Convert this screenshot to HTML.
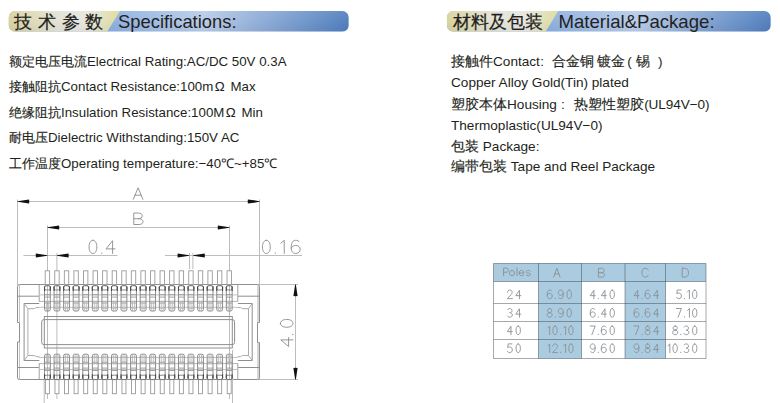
<!DOCTYPE html>
<html><head><meta charset="utf-8">
<style>
html,body{margin:0;padding:0;background:#fff;}
body{width:780px;height:403px;position:relative;overflow:hidden;font-family:"Liberation Sans",sans-serif;color:#231f20;}
.t{position:absolute;white-space:nowrap;font-size:13.2px;line-height:16px;}
.L{left:9px;font-size:13.3px;}
.R{left:451px;font-size:13.6px;}
.c{-webkit-text-stroke:0.2px #231f20;}
.k{-webkit-text-stroke:0.15px #231f20;}
.h{position:absolute;white-space:nowrap;font-size:18px;line-height:20px;color:#231f20;}
</style></head><body>
<svg width="780" height="40" viewBox="0 0 780 40" style="position:absolute;left:0;top:0">
<defs>
<linearGradient id="b1L" x1="8.7" y1="0" x2="120.0" y2="0" gradientUnits="userSpaceOnUse">
<stop offset="0" stop-color="#d8d29e"/><stop offset="0.45" stop-color="#e3e2d6"/><stop offset="0.7" stop-color="#e6e6e0"/><stop offset="1" stop-color="#dcdb98"/></linearGradient>
<linearGradient id="b1R" x1="107.2" y1="0" x2="348.8" y2="0" gradientUnits="userSpaceOnUse">
<stop offset="0" stop-color="#8aaee0"/><stop offset="0.4" stop-color="#b7cbe8"/><stop offset="1" stop-color="#4f7dbd"/></linearGradient>
<linearGradient id="b1V" x1="0" y1="11" x2="0" y2="31.7" gradientUnits="userSpaceOnUse">
<stop offset="0" stop-color="#fff" stop-opacity="0.10"/><stop offset="0.45" stop-color="#fff" stop-opacity="0.04"/><stop offset="1" stop-color="#000" stop-opacity="0.03"/></linearGradient>
<clipPath id="b1C"><rect x="8.7" y="11" width="340.1" height="20.7" rx="6.5" ry="6.5"/></clipPath>
</defs>
<g clip-path="url(#b1C)">
<rect x="8.7" y="11" width="340.1" height="20.7" fill="url(#b1R)"/>
<path d="M7.699999999999999,11 L120.0,11 L107.2,31.7 L7.699999999999999,31.7 Z" fill="url(#b1L)"/>
<rect x="8.7" y="11" width="340.1" height="20.7" fill="url(#b1V)"/>
</g></svg>
<svg width="780" height="40" viewBox="0 0 780 40" style="position:absolute;left:0;top:0">
<defs>
<linearGradient id="b2L" x1="446.9" y1="0" x2="558.2" y2="0" gradientUnits="userSpaceOnUse">
<stop offset="0" stop-color="#d8d29e"/><stop offset="0.45" stop-color="#e3e2d6"/><stop offset="0.7" stop-color="#e6e6e0"/><stop offset="1" stop-color="#dcdb98"/></linearGradient>
<linearGradient id="b2R" x1="545.6" y1="0" x2="770.8" y2="0" gradientUnits="userSpaceOnUse">
<stop offset="0" stop-color="#8aaee0"/><stop offset="0.4" stop-color="#b7cbe8"/><stop offset="1" stop-color="#4f7dbd"/></linearGradient>
<linearGradient id="b2V" x1="0" y1="11" x2="0" y2="31.7" gradientUnits="userSpaceOnUse">
<stop offset="0" stop-color="#fff" stop-opacity="0.10"/><stop offset="0.45" stop-color="#fff" stop-opacity="0.04"/><stop offset="1" stop-color="#000" stop-opacity="0.03"/></linearGradient>
<clipPath id="b2C"><rect x="446.9" y="11" width="323.9" height="20.7" rx="6.5" ry="6.5"/></clipPath>
</defs>
<g clip-path="url(#b2C)">
<rect x="446.9" y="11" width="323.9" height="20.7" fill="url(#b2R)"/>
<path d="M445.9,11 L558.2,11 L545.6,31.7 L445.9,31.7 Z" fill="url(#b2L)"/>
<rect x="446.9" y="11" width="323.9" height="20.7" fill="url(#b2V)"/>
</g></svg>
<div class="h c" style="left:14px;top:12px;letter-spacing:5.8px;">技术参数</div>
<div class="h" style="left:118px;top:12px;font-size:18.4px">Specifications:</div>
<div class="h c" style="left:452.5px;top:12px;letter-spacing:0.2px">材料及包装</div>
<div class="h" style="left:558.5px;top:12px;font-size:18.6px">Material&amp;Package:</div>

<div class="t L" style="top:54px;"><span class="k">额定电压电流</span>Electrical Rating:AC/DC 50V 0.3A</div>
<div class="t L" style="top:79px;"><span class="k">接触阻抗</span>Contact Resistance:100m<span style="margin:0 2px 0 1.5px">Ω</span> Max</div>
<div class="t L" style="top:105px;"><span class="k">绝缘阻抗</span>Insulation Resistance:100M<span style="margin:0 2px 0 1.5px">Ω</span> Min</div>
<div class="t L" style="top:130px;"><span class="k">耐电压</span>Dielectric Withstanding:150V AC</div>
<div class="t L" style="top:156px;"><span class="k">工作温度</span>Operating temperature:−40℃~+85℃</div>

<div class="t R" style="top:54px;"><span class="k">接触件</span>Contact<span style="margin:0 8px 0 0.5px">:</span><span class="k">合金铜</span><span style="margin-left:2.5px"><span class="k">镀金</span></span><span style="margin:0 4px 0 2.5px">(</span><span class="k">锡</span><span style="margin-left:8.3px">)</span></div>
<div class="t R" style="top:75px;">Copper Alloy Gold(Tin) plated</div>
<div class="t R" style="top:97px;"><span class="k">塑胶本体</span>Housing<span style="margin:0 9.5px 0 4px">:</span><span class="k">热塑性塑胶</span><span style="letter-spacing:-0.1px">(UL94V−0)</span></div>
<div class="t R" style="top:118px;">Thermoplastic(UL94V−0)</div>
<div class="t R" style="top:139px;"><span class="k">包装</span> Package:</div>
<div class="t R" style="top:159px;"><span class="k">编带包装</span> Tape and Reel Package</div>
<svg width="780" height="403" viewBox="0 0 780 403" style="position:absolute;left:0;top:0"><line x1="17.5" y1="199.5" x2="17.5" y2="285" stroke="#bdbdbd" stroke-width="1"/><line x1="259.5" y1="199.5" x2="259.5" y2="285" stroke="#bdbdbd" stroke-width="1"/><line x1="17.5" y1="201.5" x2="259.5" y2="201.5" stroke="#bdbdbd" stroke-width="1"/><path d="M17.50,201.15 L29.10,199.40 Q29.40,201.50 29.10,203.60 L17.50,201.85 Z" fill="#111"/><path d="M259.50,201.15 L247.90,199.40 Q247.60,201.50 247.90,203.60 L259.50,201.85 Z" fill="#111"/><g fill="none" stroke="#8a8a8a" stroke-width="0.9" vector-effect="non-scaling-stroke" stroke-linecap="round" stroke-linejoin="round"><path vector-effect="non-scaling-stroke" transform="translate(133.30,187.80) scale(1.6000,1.1500)" d="M0,10 L3,0 L6,10 M1.1,6.4 L4.9,6.4"/></g><line x1="47.5" y1="225.5" x2="47.5" y2="399" stroke="#bdbdbd" stroke-width="1"/><line x1="229.5" y1="225.5" x2="229.5" y2="399" stroke="#bdbdbd" stroke-width="1"/><line x1="47.5" y1="227.5" x2="229.5" y2="227.5" stroke="#bdbdbd" stroke-width="1"/><path d="M47.50,227.15 L59.10,225.40 Q59.40,227.50 59.10,229.60 L47.50,227.85 Z" fill="#111"/><path d="M229.50,227.15 L217.90,225.40 Q217.60,227.50 217.90,229.60 L229.50,227.85 Z" fill="#111"/><g fill="none" stroke="#8a8a8a" stroke-width="0.9" vector-effect="non-scaling-stroke" stroke-linecap="round" stroke-linejoin="round"><path vector-effect="non-scaling-stroke" transform="translate(133.80,213.00) scale(1.5333,1.1500)" d="M0,5 L3.5,5 C5,5 6,6 6,7.5 C6,9 5,10 3.5,10 L0,10 L0,0 L3,0 C4.5,0 5.5,1 5.5,2.5 C5.5,4 4.5,5 3,5"/></g><line x1="23.5" y1="255.5" x2="117.5" y2="255.5" stroke="#bdbdbd" stroke-width="1"/><line x1="56.9" y1="253" x2="56.9" y2="399" stroke="#bdbdbd" stroke-width="1"/><path d="M47.50,255.15 L35.90,253.40 Q35.60,255.50 35.90,257.60 L47.50,255.85 Z" fill="#111"/><path d="M56.90,255.15 L68.50,253.40 Q68.80,255.50 68.50,257.60 L56.90,255.85 Z" fill="#111"/><g fill="none" stroke="#8a8a8a" stroke-width="0.9" vector-effect="non-scaling-stroke" stroke-linecap="round" stroke-linejoin="round"><path vector-effect="non-scaling-stroke" transform="translate(88.60,240.30) scale(1.5000,1.3200)" d="M2.9,0 C1.3,0 0.3,2.1 0.3,5 C0.3,7.9 1.3,10 2.9,10 C4.5,10 5.5,7.9 5.5,5 C5.5,2.1 4.5,0 2.9,0 Z"/><path vector-effect="non-scaling-stroke" transform="translate(102.60,240.30) scale(1.5000,1.3200)" d="M-0.5,9.6 L-0.5,10"/><path vector-effect="non-scaling-stroke" transform="translate(106.00,240.30) scale(1.5000,1.3200)" d="M4.4,10 L4.4,0.3 L0,6.5 L6,6.5"/></g><line x1="165" y1="255.5" x2="302" y2="255.5" stroke="#bdbdbd" stroke-width="1"/><line x1="189.5" y1="253" x2="189.5" y2="269" stroke="#bdbdbd" stroke-width="1"/><line x1="192.9" y1="253" x2="192.9" y2="269" stroke="#bdbdbd" stroke-width="1"/><path d="M189.30,255.15 L177.70,253.40 Q177.40,255.50 177.70,257.60 L189.30,255.85 Z" fill="#111"/><path d="M193.10,255.15 L204.70,253.40 Q205.00,255.50 204.70,257.60 L193.10,255.85 Z" fill="#111"/><g fill="none" stroke="#8a8a8a" stroke-width="0.9" vector-effect="non-scaling-stroke" stroke-linecap="round" stroke-linejoin="round"><path vector-effect="non-scaling-stroke" transform="translate(262.00,240.30) scale(1.5000,1.3200)" d="M2.9,0 C1.3,0 0.3,2.1 0.3,5 C0.3,7.9 1.3,10 2.9,10 C4.5,10 5.5,7.9 5.5,5 C5.5,2.1 4.5,0 2.9,0 Z"/><path vector-effect="non-scaling-stroke" transform="translate(276.00,240.30) scale(1.5000,1.3200)" d="M-0.5,9.6 L-0.5,10"/><path vector-effect="non-scaling-stroke" transform="translate(280.80,240.30) scale(1.5000,1.3200)" d="M0,2.2 L2.3,0 L2.3,10"/><path vector-effect="non-scaling-stroke" transform="translate(291.20,240.30) scale(1.5000,1.3200)" d="M5.4,1.1 C4.9,0.4 4.1,0 3,0 C1,0 0,2.1 0,5.5 C0,8.6 1.2,10 3,10 C4.8,10 6,8.7 6,6.9 C6,5.1 4.8,3.9 3,3.9 C1.5,3.9 0.4,4.8 0,6"/></g><line x1="258" y1="284.5" x2="298" y2="284.5" stroke="#bdbdbd" stroke-width="1"/><line x1="258" y1="379.5" x2="298" y2="379.5" stroke="#bdbdbd" stroke-width="1"/><line x1="295.5" y1="284.5" x2="295.5" y2="379.5" stroke="#bdbdbd" stroke-width="1"/><path d="M295.15,284.50 L293.40,296.10 Q295.50,296.40 297.60,296.10 L295.85,284.50 Z" fill="#111"/><path d="M295.15,379.50 L293.40,367.90 Q295.50,367.60 297.60,367.90 L295.85,379.50 Z" fill="#111"/><g transform="translate(280.4,346.5) rotate(-90)"><g fill="none" stroke="#8a8a8a" stroke-width="0.9" vector-effect="non-scaling-stroke" stroke-linecap="round" stroke-linejoin="round"><path vector-effect="non-scaling-stroke" transform="translate(0.00,0.00) scale(1.5000,1.2600)" d="M4.4,10 L4.4,0.3 L0,6.5 L6,6.5"/><path vector-effect="non-scaling-stroke" transform="translate(12.80,0.00) scale(1.5000,1.2600)" d="M-0.5,9.6 L-0.5,10"/><path vector-effect="non-scaling-stroke" transform="translate(18.80,0.00) scale(1.5000,1.2600)" d="M2.9,0 C1.3,0 0.3,2.1 0.3,5 C0.3,7.9 1.3,10 2.9,10 C4.5,10 5.5,7.9 5.5,5 C5.5,2.1 4.5,0 2.9,0 Z"/></g></g><path d="M19.5,284.5 L257.6,284.5 Q259.5,284.5 259.5,286.5 L259.5,322.5 L257.5,322.5 L257.5,342.5 L259.5,342.5 L259.5,377.8 Q259.5,379.5 257.6,379.5 L19.5,379.5 Q17.5,379.5 17.5,377.8 L17.5,342 L19.5,342 L19.5,322.5 L17.5,322.5 L17.5,286.5 Q17.5,284.5 19.5,284.5 Z" fill="none" stroke="#8f8f8f" stroke-width="1"/><line x1="19.5" y1="284.5" x2="19.5" y2="322.5" stroke="#c4c4c4" stroke-width="1"/><line x1="19.5" y1="342" x2="19.5" y2="379.5" stroke="#c4c4c4" stroke-width="1"/><line x1="258.0" y1="284.5" x2="258.0" y2="322.5" stroke="#b0b0b0" stroke-width="1"/><line x1="258.0" y1="342.5" x2="258.0" y2="379.5" stroke="#b0b0b0" stroke-width="1"/><line x1="17.5" y1="296.2" x2="38.8" y2="296.2" stroke="#8f8f8f" stroke-width="1"/><line x1="39.2" y1="284.5" x2="39.2" y2="301.5" stroke="#a0a0a0" stroke-width="1"/><line x1="237.8" y1="296.2" x2="259.5" y2="296.2" stroke="#8f8f8f" stroke-width="1"/><line x1="237.8" y1="284.5" x2="237.8" y2="301.5" stroke="#a0a0a0" stroke-width="1"/><line x1="17.5" y1="367.5" x2="38.8" y2="367.5" stroke="#8f8f8f" stroke-width="1"/><line x1="39.2" y1="363" x2="39.2" y2="379.5" stroke="#a0a0a0" stroke-width="1"/><line x1="237.8" y1="367.5" x2="259.5" y2="367.5" stroke="#8f8f8f" stroke-width="1"/><line x1="237.8" y1="363" x2="237.8" y2="379.5" stroke="#a0a0a0" stroke-width="1"/><path d="M39.3,303.5 L24.1,303.5 L24.1,360.5 L39.3,360.5" fill="none" stroke="#8f8f8f" stroke-width="1"/><path d="M39.3,307.5 L36.3,307.5 L34.3,308.7 L27.9,308.7 L27.9,355.5 L34.3,355.5 L36.3,356.7 L39.3,356.7 M24.1,303.5 L27.9,308.7 M24.1,360.5 L27.9,355.5" fill="none" stroke="#ababab" stroke-width="1"/><path d="M237.8,303.5 L252.2,303.5 L252.2,360.5 L237.8,360.5" fill="none" stroke="#8f8f8f" stroke-width="1"/><path d="M237.5,307.5 L240.5,307.5 L242.5,308.7 L248.5,308.7 L248.5,355.5 L242.5,355.5 L240.5,356.7 L237.5,356.7 M252.2,303.5 L248.5,308.7 M252.2,360.5 L248.5,355.5" fill="none" stroke="#ababab" stroke-width="1"/><line x1="38.8" y1="294.9" x2="237.8" y2="294.9" stroke="#c4c4c4" stroke-width="1"/><line x1="38.8" y1="301.4" x2="237.8" y2="301.4" stroke="#b4b4b4" stroke-width="1"/><line x1="38.8" y1="307.3" x2="237.8" y2="307.3" stroke="#c4c4c4" stroke-width="1"/><line x1="38.8" y1="357.5" x2="237.8" y2="357.5" stroke="#c4c4c4" stroke-width="1"/><line x1="38.8" y1="363.6" x2="237.8" y2="363.6" stroke="#b4b4b4" stroke-width="1"/><line x1="38.8" y1="369.5" x2="237.8" y2="369.5" stroke="#c4c4c4" stroke-width="1"/><rect x="44.3" y="316.5" width="188" height="31.5" fill="none" stroke="#8f8f8f" stroke-width="1"/><rect x="41.7" y="319.6" width="192.9" height="25" rx="2.2" fill="none" stroke="#8f8f8f" stroke-width="1"/><line x1="44.2" y1="380" x2="44.2" y2="403" stroke="#bdbdbd" stroke-width="1"/><line x1="232.5" y1="350" x2="232.5" y2="403" stroke="#bdbdbd" stroke-width="1"/><rect x="45.20" y="270.8" width="4.4" height="13.7" fill="#fff" stroke="#9a9a9a" stroke-width="0.9"/><rect x="45.40" y="379.5" width="4.0" height="14.2" fill="#fff" stroke="#9a9a9a" stroke-width="0.9"/><rect x="44.50" y="285.60" width="5.8" height="25.4" rx="1.6" fill="none" stroke="#858585" stroke-width="0.95"/><rect x="44.50" y="285.70" width="5.8" height="4.3" rx="1.6" fill="none" stroke="#7a7a7a" stroke-width="0.9"/><line x1="44.50" y1="286.60" x2="44.50" y2="291.00" stroke="#4a4a4a" stroke-width="1.1"/><line x1="50.30" y1="286.60" x2="50.30" y2="291.00" stroke="#4a4a4a" stroke-width="1.1"/><line x1="44.50" y1="294.70" x2="50.30" y2="294.70" stroke="#8a8a8a" stroke-width="0.8"/><line x1="44.50" y1="297.10" x2="50.30" y2="297.10" stroke="#8a8a8a" stroke-width="0.8"/><line x1="44.50" y1="303.00" x2="50.30" y2="303.00" stroke="#8a8a8a" stroke-width="0.8"/><line x1="44.50" y1="308.20" x2="50.30" y2="308.20" stroke="#b0b0b0" stroke-width="0.8"/><line x1="46.40" y1="300.50" x2="46.40" y2="311.00" stroke="#b4b4b4" stroke-width="0.8"/><line x1="48.40" y1="300.50" x2="48.40" y2="311.00" stroke="#b4b4b4" stroke-width="0.8"/><rect x="44.50" y="354.20" width="5.8" height="25.4" rx="1.6" fill="none" stroke="#858585" stroke-width="0.95"/><rect x="44.50" y="375.20" width="5.8" height="4.3" rx="1.6" fill="none" stroke="#7a7a7a" stroke-width="0.9"/><line x1="44.50" y1="374.20" x2="44.50" y2="378.60" stroke="#4a4a4a" stroke-width="1.1"/><line x1="50.30" y1="374.20" x2="50.30" y2="378.60" stroke="#4a4a4a" stroke-width="1.1"/><line x1="44.50" y1="370.50" x2="50.30" y2="370.50" stroke="#8a8a8a" stroke-width="0.8"/><line x1="44.50" y1="368.10" x2="50.30" y2="368.10" stroke="#8a8a8a" stroke-width="0.8"/><line x1="44.50" y1="362.20" x2="50.30" y2="362.20" stroke="#8a8a8a" stroke-width="0.8"/><line x1="44.50" y1="357.00" x2="50.30" y2="357.00" stroke="#b0b0b0" stroke-width="0.8"/><line x1="46.40" y1="364.70" x2="46.40" y2="354.20" stroke="#b4b4b4" stroke-width="0.8"/><line x1="48.40" y1="364.70" x2="48.40" y2="354.20" stroke="#b4b4b4" stroke-width="0.8"/><rect x="54.77" y="270.8" width="4.4" height="13.7" fill="#fff" stroke="#9a9a9a" stroke-width="0.9"/><rect x="54.97" y="379.5" width="4.0" height="14.2" fill="#fff" stroke="#9a9a9a" stroke-width="0.9"/><rect x="54.07" y="285.60" width="5.8" height="25.4" rx="1.6" fill="none" stroke="#858585" stroke-width="0.95"/><rect x="54.07" y="285.70" width="5.8" height="4.3" rx="1.6" fill="none" stroke="#7a7a7a" stroke-width="0.9"/><line x1="54.07" y1="286.60" x2="54.07" y2="291.00" stroke="#4a4a4a" stroke-width="1.1"/><line x1="59.87" y1="286.60" x2="59.87" y2="291.00" stroke="#4a4a4a" stroke-width="1.1"/><line x1="54.07" y1="294.70" x2="59.87" y2="294.70" stroke="#8a8a8a" stroke-width="0.8"/><line x1="54.07" y1="297.10" x2="59.87" y2="297.10" stroke="#8a8a8a" stroke-width="0.8"/><line x1="54.07" y1="303.00" x2="59.87" y2="303.00" stroke="#8a8a8a" stroke-width="0.8"/><line x1="54.07" y1="308.20" x2="59.87" y2="308.20" stroke="#b0b0b0" stroke-width="0.8"/><line x1="55.97" y1="300.50" x2="55.97" y2="311.00" stroke="#b4b4b4" stroke-width="0.8"/><line x1="57.97" y1="300.50" x2="57.97" y2="311.00" stroke="#b4b4b4" stroke-width="0.8"/><rect x="54.07" y="354.20" width="5.8" height="25.4" rx="1.6" fill="none" stroke="#858585" stroke-width="0.95"/><rect x="54.07" y="375.20" width="5.8" height="4.3" rx="1.6" fill="none" stroke="#7a7a7a" stroke-width="0.9"/><line x1="54.07" y1="374.20" x2="54.07" y2="378.60" stroke="#4a4a4a" stroke-width="1.1"/><line x1="59.87" y1="374.20" x2="59.87" y2="378.60" stroke="#4a4a4a" stroke-width="1.1"/><line x1="54.07" y1="370.50" x2="59.87" y2="370.50" stroke="#8a8a8a" stroke-width="0.8"/><line x1="54.07" y1="368.10" x2="59.87" y2="368.10" stroke="#8a8a8a" stroke-width="0.8"/><line x1="54.07" y1="362.20" x2="59.87" y2="362.20" stroke="#8a8a8a" stroke-width="0.8"/><line x1="54.07" y1="357.00" x2="59.87" y2="357.00" stroke="#b0b0b0" stroke-width="0.8"/><line x1="55.97" y1="364.70" x2="55.97" y2="354.20" stroke="#b4b4b4" stroke-width="0.8"/><line x1="57.97" y1="364.70" x2="57.97" y2="354.20" stroke="#b4b4b4" stroke-width="0.8"/><rect x="64.34" y="270.8" width="4.4" height="13.7" fill="#fff" stroke="#9a9a9a" stroke-width="0.9"/><rect x="64.54" y="379.5" width="4.0" height="14.2" fill="#fff" stroke="#9a9a9a" stroke-width="0.9"/><rect x="63.64" y="285.60" width="5.8" height="25.4" rx="1.6" fill="none" stroke="#858585" stroke-width="0.95"/><rect x="63.64" y="285.70" width="5.8" height="4.3" rx="1.6" fill="none" stroke="#7a7a7a" stroke-width="0.9"/><line x1="63.64" y1="286.60" x2="63.64" y2="291.00" stroke="#4a4a4a" stroke-width="1.1"/><line x1="69.44" y1="286.60" x2="69.44" y2="291.00" stroke="#4a4a4a" stroke-width="1.1"/><line x1="63.64" y1="294.70" x2="69.44" y2="294.70" stroke="#8a8a8a" stroke-width="0.8"/><line x1="63.64" y1="297.10" x2="69.44" y2="297.10" stroke="#8a8a8a" stroke-width="0.8"/><line x1="63.64" y1="303.00" x2="69.44" y2="303.00" stroke="#8a8a8a" stroke-width="0.8"/><line x1="63.64" y1="308.20" x2="69.44" y2="308.20" stroke="#b0b0b0" stroke-width="0.8"/><line x1="65.54" y1="300.50" x2="65.54" y2="311.00" stroke="#b4b4b4" stroke-width="0.8"/><line x1="67.54" y1="300.50" x2="67.54" y2="311.00" stroke="#b4b4b4" stroke-width="0.8"/><rect x="63.64" y="354.20" width="5.8" height="25.4" rx="1.6" fill="none" stroke="#858585" stroke-width="0.95"/><rect x="63.64" y="375.20" width="5.8" height="4.3" rx="1.6" fill="none" stroke="#7a7a7a" stroke-width="0.9"/><line x1="63.64" y1="374.20" x2="63.64" y2="378.60" stroke="#4a4a4a" stroke-width="1.1"/><line x1="69.44" y1="374.20" x2="69.44" y2="378.60" stroke="#4a4a4a" stroke-width="1.1"/><line x1="63.64" y1="370.50" x2="69.44" y2="370.50" stroke="#8a8a8a" stroke-width="0.8"/><line x1="63.64" y1="368.10" x2="69.44" y2="368.10" stroke="#8a8a8a" stroke-width="0.8"/><line x1="63.64" y1="362.20" x2="69.44" y2="362.20" stroke="#8a8a8a" stroke-width="0.8"/><line x1="63.64" y1="357.00" x2="69.44" y2="357.00" stroke="#b0b0b0" stroke-width="0.8"/><line x1="65.54" y1="364.70" x2="65.54" y2="354.20" stroke="#b4b4b4" stroke-width="0.8"/><line x1="67.54" y1="364.70" x2="67.54" y2="354.20" stroke="#b4b4b4" stroke-width="0.8"/><rect x="73.91" y="270.8" width="4.4" height="13.7" fill="#fff" stroke="#9a9a9a" stroke-width="0.9"/><rect x="74.11" y="379.5" width="4.0" height="14.2" fill="#fff" stroke="#9a9a9a" stroke-width="0.9"/><rect x="73.21" y="285.60" width="5.8" height="25.4" rx="1.6" fill="none" stroke="#858585" stroke-width="0.95"/><rect x="73.21" y="285.70" width="5.8" height="4.3" rx="1.6" fill="none" stroke="#7a7a7a" stroke-width="0.9"/><line x1="73.21" y1="286.60" x2="73.21" y2="291.00" stroke="#4a4a4a" stroke-width="1.1"/><line x1="79.01" y1="286.60" x2="79.01" y2="291.00" stroke="#4a4a4a" stroke-width="1.1"/><line x1="73.21" y1="294.70" x2="79.01" y2="294.70" stroke="#8a8a8a" stroke-width="0.8"/><line x1="73.21" y1="297.10" x2="79.01" y2="297.10" stroke="#8a8a8a" stroke-width="0.8"/><line x1="73.21" y1="303.00" x2="79.01" y2="303.00" stroke="#8a8a8a" stroke-width="0.8"/><line x1="73.21" y1="308.20" x2="79.01" y2="308.20" stroke="#b0b0b0" stroke-width="0.8"/><line x1="75.11" y1="300.50" x2="75.11" y2="311.00" stroke="#b4b4b4" stroke-width="0.8"/><line x1="77.11" y1="300.50" x2="77.11" y2="311.00" stroke="#b4b4b4" stroke-width="0.8"/><rect x="73.21" y="354.20" width="5.8" height="25.4" rx="1.6" fill="none" stroke="#858585" stroke-width="0.95"/><rect x="73.21" y="375.20" width="5.8" height="4.3" rx="1.6" fill="none" stroke="#7a7a7a" stroke-width="0.9"/><line x1="73.21" y1="374.20" x2="73.21" y2="378.60" stroke="#4a4a4a" stroke-width="1.1"/><line x1="79.01" y1="374.20" x2="79.01" y2="378.60" stroke="#4a4a4a" stroke-width="1.1"/><line x1="73.21" y1="370.50" x2="79.01" y2="370.50" stroke="#8a8a8a" stroke-width="0.8"/><line x1="73.21" y1="368.10" x2="79.01" y2="368.10" stroke="#8a8a8a" stroke-width="0.8"/><line x1="73.21" y1="362.20" x2="79.01" y2="362.20" stroke="#8a8a8a" stroke-width="0.8"/><line x1="73.21" y1="357.00" x2="79.01" y2="357.00" stroke="#b0b0b0" stroke-width="0.8"/><line x1="75.11" y1="364.70" x2="75.11" y2="354.20" stroke="#b4b4b4" stroke-width="0.8"/><line x1="77.11" y1="364.70" x2="77.11" y2="354.20" stroke="#b4b4b4" stroke-width="0.8"/><rect x="83.48" y="270.8" width="4.4" height="13.7" fill="#fff" stroke="#9a9a9a" stroke-width="0.9"/><rect x="83.68" y="379.5" width="4.0" height="14.2" fill="#fff" stroke="#9a9a9a" stroke-width="0.9"/><rect x="82.78" y="285.60" width="5.8" height="25.4" rx="1.6" fill="none" stroke="#858585" stroke-width="0.95"/><rect x="82.78" y="285.70" width="5.8" height="4.3" rx="1.6" fill="none" stroke="#7a7a7a" stroke-width="0.9"/><line x1="82.78" y1="286.60" x2="82.78" y2="291.00" stroke="#4a4a4a" stroke-width="1.1"/><line x1="88.58" y1="286.60" x2="88.58" y2="291.00" stroke="#4a4a4a" stroke-width="1.1"/><line x1="82.78" y1="294.70" x2="88.58" y2="294.70" stroke="#8a8a8a" stroke-width="0.8"/><line x1="82.78" y1="297.10" x2="88.58" y2="297.10" stroke="#8a8a8a" stroke-width="0.8"/><line x1="82.78" y1="303.00" x2="88.58" y2="303.00" stroke="#8a8a8a" stroke-width="0.8"/><line x1="82.78" y1="308.20" x2="88.58" y2="308.20" stroke="#b0b0b0" stroke-width="0.8"/><line x1="84.68" y1="300.50" x2="84.68" y2="311.00" stroke="#b4b4b4" stroke-width="0.8"/><line x1="86.68" y1="300.50" x2="86.68" y2="311.00" stroke="#b4b4b4" stroke-width="0.8"/><rect x="82.78" y="354.20" width="5.8" height="25.4" rx="1.6" fill="none" stroke="#858585" stroke-width="0.95"/><rect x="82.78" y="375.20" width="5.8" height="4.3" rx="1.6" fill="none" stroke="#7a7a7a" stroke-width="0.9"/><line x1="82.78" y1="374.20" x2="82.78" y2="378.60" stroke="#4a4a4a" stroke-width="1.1"/><line x1="88.58" y1="374.20" x2="88.58" y2="378.60" stroke="#4a4a4a" stroke-width="1.1"/><line x1="82.78" y1="370.50" x2="88.58" y2="370.50" stroke="#8a8a8a" stroke-width="0.8"/><line x1="82.78" y1="368.10" x2="88.58" y2="368.10" stroke="#8a8a8a" stroke-width="0.8"/><line x1="82.78" y1="362.20" x2="88.58" y2="362.20" stroke="#8a8a8a" stroke-width="0.8"/><line x1="82.78" y1="357.00" x2="88.58" y2="357.00" stroke="#b0b0b0" stroke-width="0.8"/><line x1="84.68" y1="364.70" x2="84.68" y2="354.20" stroke="#b4b4b4" stroke-width="0.8"/><line x1="86.68" y1="364.70" x2="86.68" y2="354.20" stroke="#b4b4b4" stroke-width="0.8"/><rect x="93.05" y="270.8" width="4.4" height="13.7" fill="#fff" stroke="#9a9a9a" stroke-width="0.9"/><rect x="93.25" y="379.5" width="4.0" height="14.2" fill="#fff" stroke="#9a9a9a" stroke-width="0.9"/><rect x="92.35" y="285.60" width="5.8" height="25.4" rx="1.6" fill="none" stroke="#858585" stroke-width="0.95"/><rect x="92.35" y="285.70" width="5.8" height="4.3" rx="1.6" fill="none" stroke="#7a7a7a" stroke-width="0.9"/><line x1="92.35" y1="286.60" x2="92.35" y2="291.00" stroke="#4a4a4a" stroke-width="1.1"/><line x1="98.15" y1="286.60" x2="98.15" y2="291.00" stroke="#4a4a4a" stroke-width="1.1"/><line x1="92.35" y1="294.70" x2="98.15" y2="294.70" stroke="#8a8a8a" stroke-width="0.8"/><line x1="92.35" y1="297.10" x2="98.15" y2="297.10" stroke="#8a8a8a" stroke-width="0.8"/><line x1="92.35" y1="303.00" x2="98.15" y2="303.00" stroke="#8a8a8a" stroke-width="0.8"/><line x1="92.35" y1="308.20" x2="98.15" y2="308.20" stroke="#b0b0b0" stroke-width="0.8"/><line x1="94.25" y1="300.50" x2="94.25" y2="311.00" stroke="#b4b4b4" stroke-width="0.8"/><line x1="96.25" y1="300.50" x2="96.25" y2="311.00" stroke="#b4b4b4" stroke-width="0.8"/><rect x="92.35" y="354.20" width="5.8" height="25.4" rx="1.6" fill="none" stroke="#858585" stroke-width="0.95"/><rect x="92.35" y="375.20" width="5.8" height="4.3" rx="1.6" fill="none" stroke="#7a7a7a" stroke-width="0.9"/><line x1="92.35" y1="374.20" x2="92.35" y2="378.60" stroke="#4a4a4a" stroke-width="1.1"/><line x1="98.15" y1="374.20" x2="98.15" y2="378.60" stroke="#4a4a4a" stroke-width="1.1"/><line x1="92.35" y1="370.50" x2="98.15" y2="370.50" stroke="#8a8a8a" stroke-width="0.8"/><line x1="92.35" y1="368.10" x2="98.15" y2="368.10" stroke="#8a8a8a" stroke-width="0.8"/><line x1="92.35" y1="362.20" x2="98.15" y2="362.20" stroke="#8a8a8a" stroke-width="0.8"/><line x1="92.35" y1="357.00" x2="98.15" y2="357.00" stroke="#b0b0b0" stroke-width="0.8"/><line x1="94.25" y1="364.70" x2="94.25" y2="354.20" stroke="#b4b4b4" stroke-width="0.8"/><line x1="96.25" y1="364.70" x2="96.25" y2="354.20" stroke="#b4b4b4" stroke-width="0.8"/><rect x="102.62" y="270.8" width="4.4" height="13.7" fill="#fff" stroke="#9a9a9a" stroke-width="0.9"/><rect x="102.82" y="379.5" width="4.0" height="14.2" fill="#fff" stroke="#9a9a9a" stroke-width="0.9"/><rect x="101.92" y="285.60" width="5.8" height="25.4" rx="1.6" fill="none" stroke="#858585" stroke-width="0.95"/><rect x="101.92" y="285.70" width="5.8" height="4.3" rx="1.6" fill="none" stroke="#7a7a7a" stroke-width="0.9"/><line x1="101.92" y1="286.60" x2="101.92" y2="291.00" stroke="#4a4a4a" stroke-width="1.1"/><line x1="107.72" y1="286.60" x2="107.72" y2="291.00" stroke="#4a4a4a" stroke-width="1.1"/><line x1="101.92" y1="294.70" x2="107.72" y2="294.70" stroke="#8a8a8a" stroke-width="0.8"/><line x1="101.92" y1="297.10" x2="107.72" y2="297.10" stroke="#8a8a8a" stroke-width="0.8"/><line x1="101.92" y1="303.00" x2="107.72" y2="303.00" stroke="#8a8a8a" stroke-width="0.8"/><line x1="101.92" y1="308.20" x2="107.72" y2="308.20" stroke="#b0b0b0" stroke-width="0.8"/><line x1="103.82" y1="300.50" x2="103.82" y2="311.00" stroke="#b4b4b4" stroke-width="0.8"/><line x1="105.82" y1="300.50" x2="105.82" y2="311.00" stroke="#b4b4b4" stroke-width="0.8"/><rect x="101.92" y="354.20" width="5.8" height="25.4" rx="1.6" fill="none" stroke="#858585" stroke-width="0.95"/><rect x="101.92" y="375.20" width="5.8" height="4.3" rx="1.6" fill="none" stroke="#7a7a7a" stroke-width="0.9"/><line x1="101.92" y1="374.20" x2="101.92" y2="378.60" stroke="#4a4a4a" stroke-width="1.1"/><line x1="107.72" y1="374.20" x2="107.72" y2="378.60" stroke="#4a4a4a" stroke-width="1.1"/><line x1="101.92" y1="370.50" x2="107.72" y2="370.50" stroke="#8a8a8a" stroke-width="0.8"/><line x1="101.92" y1="368.10" x2="107.72" y2="368.10" stroke="#8a8a8a" stroke-width="0.8"/><line x1="101.92" y1="362.20" x2="107.72" y2="362.20" stroke="#8a8a8a" stroke-width="0.8"/><line x1="101.92" y1="357.00" x2="107.72" y2="357.00" stroke="#b0b0b0" stroke-width="0.8"/><line x1="103.82" y1="364.70" x2="103.82" y2="354.20" stroke="#b4b4b4" stroke-width="0.8"/><line x1="105.82" y1="364.70" x2="105.82" y2="354.20" stroke="#b4b4b4" stroke-width="0.8"/><rect x="112.19" y="270.8" width="4.4" height="13.7" fill="#fff" stroke="#9a9a9a" stroke-width="0.9"/><rect x="112.39" y="379.5" width="4.0" height="14.2" fill="#fff" stroke="#9a9a9a" stroke-width="0.9"/><rect x="111.49" y="285.60" width="5.8" height="25.4" rx="1.6" fill="none" stroke="#858585" stroke-width="0.95"/><rect x="111.49" y="285.70" width="5.8" height="4.3" rx="1.6" fill="none" stroke="#7a7a7a" stroke-width="0.9"/><line x1="111.49" y1="286.60" x2="111.49" y2="291.00" stroke="#4a4a4a" stroke-width="1.1"/><line x1="117.29" y1="286.60" x2="117.29" y2="291.00" stroke="#4a4a4a" stroke-width="1.1"/><line x1="111.49" y1="294.70" x2="117.29" y2="294.70" stroke="#8a8a8a" stroke-width="0.8"/><line x1="111.49" y1="297.10" x2="117.29" y2="297.10" stroke="#8a8a8a" stroke-width="0.8"/><line x1="111.49" y1="303.00" x2="117.29" y2="303.00" stroke="#8a8a8a" stroke-width="0.8"/><line x1="111.49" y1="308.20" x2="117.29" y2="308.20" stroke="#b0b0b0" stroke-width="0.8"/><line x1="113.39" y1="300.50" x2="113.39" y2="311.00" stroke="#b4b4b4" stroke-width="0.8"/><line x1="115.39" y1="300.50" x2="115.39" y2="311.00" stroke="#b4b4b4" stroke-width="0.8"/><rect x="111.49" y="354.20" width="5.8" height="25.4" rx="1.6" fill="none" stroke="#858585" stroke-width="0.95"/><rect x="111.49" y="375.20" width="5.8" height="4.3" rx="1.6" fill="none" stroke="#7a7a7a" stroke-width="0.9"/><line x1="111.49" y1="374.20" x2="111.49" y2="378.60" stroke="#4a4a4a" stroke-width="1.1"/><line x1="117.29" y1="374.20" x2="117.29" y2="378.60" stroke="#4a4a4a" stroke-width="1.1"/><line x1="111.49" y1="370.50" x2="117.29" y2="370.50" stroke="#8a8a8a" stroke-width="0.8"/><line x1="111.49" y1="368.10" x2="117.29" y2="368.10" stroke="#8a8a8a" stroke-width="0.8"/><line x1="111.49" y1="362.20" x2="117.29" y2="362.20" stroke="#8a8a8a" stroke-width="0.8"/><line x1="111.49" y1="357.00" x2="117.29" y2="357.00" stroke="#b0b0b0" stroke-width="0.8"/><line x1="113.39" y1="364.70" x2="113.39" y2="354.20" stroke="#b4b4b4" stroke-width="0.8"/><line x1="115.39" y1="364.70" x2="115.39" y2="354.20" stroke="#b4b4b4" stroke-width="0.8"/><rect x="121.76" y="270.8" width="4.4" height="13.7" fill="#fff" stroke="#9a9a9a" stroke-width="0.9"/><rect x="121.96" y="379.5" width="4.0" height="14.2" fill="#fff" stroke="#9a9a9a" stroke-width="0.9"/><rect x="121.06" y="285.60" width="5.8" height="25.4" rx="1.6" fill="none" stroke="#858585" stroke-width="0.95"/><rect x="121.06" y="285.70" width="5.8" height="4.3" rx="1.6" fill="none" stroke="#7a7a7a" stroke-width="0.9"/><line x1="121.06" y1="286.60" x2="121.06" y2="291.00" stroke="#4a4a4a" stroke-width="1.1"/><line x1="126.86" y1="286.60" x2="126.86" y2="291.00" stroke="#4a4a4a" stroke-width="1.1"/><line x1="121.06" y1="294.70" x2="126.86" y2="294.70" stroke="#8a8a8a" stroke-width="0.8"/><line x1="121.06" y1="297.10" x2="126.86" y2="297.10" stroke="#8a8a8a" stroke-width="0.8"/><line x1="121.06" y1="303.00" x2="126.86" y2="303.00" stroke="#8a8a8a" stroke-width="0.8"/><line x1="121.06" y1="308.20" x2="126.86" y2="308.20" stroke="#b0b0b0" stroke-width="0.8"/><line x1="122.96" y1="300.50" x2="122.96" y2="311.00" stroke="#b4b4b4" stroke-width="0.8"/><line x1="124.96" y1="300.50" x2="124.96" y2="311.00" stroke="#b4b4b4" stroke-width="0.8"/><rect x="121.06" y="354.20" width="5.8" height="25.4" rx="1.6" fill="none" stroke="#858585" stroke-width="0.95"/><rect x="121.06" y="375.20" width="5.8" height="4.3" rx="1.6" fill="none" stroke="#7a7a7a" stroke-width="0.9"/><line x1="121.06" y1="374.20" x2="121.06" y2="378.60" stroke="#4a4a4a" stroke-width="1.1"/><line x1="126.86" y1="374.20" x2="126.86" y2="378.60" stroke="#4a4a4a" stroke-width="1.1"/><line x1="121.06" y1="370.50" x2="126.86" y2="370.50" stroke="#8a8a8a" stroke-width="0.8"/><line x1="121.06" y1="368.10" x2="126.86" y2="368.10" stroke="#8a8a8a" stroke-width="0.8"/><line x1="121.06" y1="362.20" x2="126.86" y2="362.20" stroke="#8a8a8a" stroke-width="0.8"/><line x1="121.06" y1="357.00" x2="126.86" y2="357.00" stroke="#b0b0b0" stroke-width="0.8"/><line x1="122.96" y1="364.70" x2="122.96" y2="354.20" stroke="#b4b4b4" stroke-width="0.8"/><line x1="124.96" y1="364.70" x2="124.96" y2="354.20" stroke="#b4b4b4" stroke-width="0.8"/><rect x="131.33" y="270.8" width="4.4" height="13.7" fill="#fff" stroke="#9a9a9a" stroke-width="0.9"/><rect x="131.53" y="379.5" width="4.0" height="14.2" fill="#fff" stroke="#9a9a9a" stroke-width="0.9"/><rect x="130.63" y="285.60" width="5.8" height="25.4" rx="1.6" fill="none" stroke="#858585" stroke-width="0.95"/><rect x="130.63" y="285.70" width="5.8" height="4.3" rx="1.6" fill="none" stroke="#7a7a7a" stroke-width="0.9"/><line x1="130.63" y1="286.60" x2="130.63" y2="291.00" stroke="#4a4a4a" stroke-width="1.1"/><line x1="136.43" y1="286.60" x2="136.43" y2="291.00" stroke="#4a4a4a" stroke-width="1.1"/><line x1="130.63" y1="294.70" x2="136.43" y2="294.70" stroke="#8a8a8a" stroke-width="0.8"/><line x1="130.63" y1="297.10" x2="136.43" y2="297.10" stroke="#8a8a8a" stroke-width="0.8"/><line x1="130.63" y1="303.00" x2="136.43" y2="303.00" stroke="#8a8a8a" stroke-width="0.8"/><line x1="130.63" y1="308.20" x2="136.43" y2="308.20" stroke="#b0b0b0" stroke-width="0.8"/><line x1="132.53" y1="300.50" x2="132.53" y2="311.00" stroke="#b4b4b4" stroke-width="0.8"/><line x1="134.53" y1="300.50" x2="134.53" y2="311.00" stroke="#b4b4b4" stroke-width="0.8"/><rect x="130.63" y="354.20" width="5.8" height="25.4" rx="1.6" fill="none" stroke="#858585" stroke-width="0.95"/><rect x="130.63" y="375.20" width="5.8" height="4.3" rx="1.6" fill="none" stroke="#7a7a7a" stroke-width="0.9"/><line x1="130.63" y1="374.20" x2="130.63" y2="378.60" stroke="#4a4a4a" stroke-width="1.1"/><line x1="136.43" y1="374.20" x2="136.43" y2="378.60" stroke="#4a4a4a" stroke-width="1.1"/><line x1="130.63" y1="370.50" x2="136.43" y2="370.50" stroke="#8a8a8a" stroke-width="0.8"/><line x1="130.63" y1="368.10" x2="136.43" y2="368.10" stroke="#8a8a8a" stroke-width="0.8"/><line x1="130.63" y1="362.20" x2="136.43" y2="362.20" stroke="#8a8a8a" stroke-width="0.8"/><line x1="130.63" y1="357.00" x2="136.43" y2="357.00" stroke="#b0b0b0" stroke-width="0.8"/><line x1="132.53" y1="364.70" x2="132.53" y2="354.20" stroke="#b4b4b4" stroke-width="0.8"/><line x1="134.53" y1="364.70" x2="134.53" y2="354.20" stroke="#b4b4b4" stroke-width="0.8"/><rect x="140.90" y="270.8" width="4.4" height="13.7" fill="#fff" stroke="#9a9a9a" stroke-width="0.9"/><rect x="141.10" y="379.5" width="4.0" height="14.2" fill="#fff" stroke="#9a9a9a" stroke-width="0.9"/><rect x="140.20" y="285.60" width="5.8" height="25.4" rx="1.6" fill="none" stroke="#858585" stroke-width="0.95"/><rect x="140.20" y="285.70" width="5.8" height="4.3" rx="1.6" fill="none" stroke="#7a7a7a" stroke-width="0.9"/><line x1="140.20" y1="286.60" x2="140.20" y2="291.00" stroke="#4a4a4a" stroke-width="1.1"/><line x1="146.00" y1="286.60" x2="146.00" y2="291.00" stroke="#4a4a4a" stroke-width="1.1"/><line x1="140.20" y1="294.70" x2="146.00" y2="294.70" stroke="#8a8a8a" stroke-width="0.8"/><line x1="140.20" y1="297.10" x2="146.00" y2="297.10" stroke="#8a8a8a" stroke-width="0.8"/><line x1="140.20" y1="303.00" x2="146.00" y2="303.00" stroke="#8a8a8a" stroke-width="0.8"/><line x1="140.20" y1="308.20" x2="146.00" y2="308.20" stroke="#b0b0b0" stroke-width="0.8"/><line x1="142.10" y1="300.50" x2="142.10" y2="311.00" stroke="#b4b4b4" stroke-width="0.8"/><line x1="144.10" y1="300.50" x2="144.10" y2="311.00" stroke="#b4b4b4" stroke-width="0.8"/><rect x="140.20" y="354.20" width="5.8" height="25.4" rx="1.6" fill="none" stroke="#858585" stroke-width="0.95"/><rect x="140.20" y="375.20" width="5.8" height="4.3" rx="1.6" fill="none" stroke="#7a7a7a" stroke-width="0.9"/><line x1="140.20" y1="374.20" x2="140.20" y2="378.60" stroke="#4a4a4a" stroke-width="1.1"/><line x1="146.00" y1="374.20" x2="146.00" y2="378.60" stroke="#4a4a4a" stroke-width="1.1"/><line x1="140.20" y1="370.50" x2="146.00" y2="370.50" stroke="#8a8a8a" stroke-width="0.8"/><line x1="140.20" y1="368.10" x2="146.00" y2="368.10" stroke="#8a8a8a" stroke-width="0.8"/><line x1="140.20" y1="362.20" x2="146.00" y2="362.20" stroke="#8a8a8a" stroke-width="0.8"/><line x1="140.20" y1="357.00" x2="146.00" y2="357.00" stroke="#b0b0b0" stroke-width="0.8"/><line x1="142.10" y1="364.70" x2="142.10" y2="354.20" stroke="#b4b4b4" stroke-width="0.8"/><line x1="144.10" y1="364.70" x2="144.10" y2="354.20" stroke="#b4b4b4" stroke-width="0.8"/><rect x="150.47" y="270.8" width="4.4" height="13.7" fill="#fff" stroke="#9a9a9a" stroke-width="0.9"/><rect x="150.67" y="379.5" width="4.0" height="14.2" fill="#fff" stroke="#9a9a9a" stroke-width="0.9"/><rect x="149.77" y="285.60" width="5.8" height="25.4" rx="1.6" fill="none" stroke="#858585" stroke-width="0.95"/><rect x="149.77" y="285.70" width="5.8" height="4.3" rx="1.6" fill="none" stroke="#7a7a7a" stroke-width="0.9"/><line x1="149.77" y1="286.60" x2="149.77" y2="291.00" stroke="#4a4a4a" stroke-width="1.1"/><line x1="155.57" y1="286.60" x2="155.57" y2="291.00" stroke="#4a4a4a" stroke-width="1.1"/><line x1="149.77" y1="294.70" x2="155.57" y2="294.70" stroke="#8a8a8a" stroke-width="0.8"/><line x1="149.77" y1="297.10" x2="155.57" y2="297.10" stroke="#8a8a8a" stroke-width="0.8"/><line x1="149.77" y1="303.00" x2="155.57" y2="303.00" stroke="#8a8a8a" stroke-width="0.8"/><line x1="149.77" y1="308.20" x2="155.57" y2="308.20" stroke="#b0b0b0" stroke-width="0.8"/><line x1="151.67" y1="300.50" x2="151.67" y2="311.00" stroke="#b4b4b4" stroke-width="0.8"/><line x1="153.67" y1="300.50" x2="153.67" y2="311.00" stroke="#b4b4b4" stroke-width="0.8"/><rect x="149.77" y="354.20" width="5.8" height="25.4" rx="1.6" fill="none" stroke="#858585" stroke-width="0.95"/><rect x="149.77" y="375.20" width="5.8" height="4.3" rx="1.6" fill="none" stroke="#7a7a7a" stroke-width="0.9"/><line x1="149.77" y1="374.20" x2="149.77" y2="378.60" stroke="#4a4a4a" stroke-width="1.1"/><line x1="155.57" y1="374.20" x2="155.57" y2="378.60" stroke="#4a4a4a" stroke-width="1.1"/><line x1="149.77" y1="370.50" x2="155.57" y2="370.50" stroke="#8a8a8a" stroke-width="0.8"/><line x1="149.77" y1="368.10" x2="155.57" y2="368.10" stroke="#8a8a8a" stroke-width="0.8"/><line x1="149.77" y1="362.20" x2="155.57" y2="362.20" stroke="#8a8a8a" stroke-width="0.8"/><line x1="149.77" y1="357.00" x2="155.57" y2="357.00" stroke="#b0b0b0" stroke-width="0.8"/><line x1="151.67" y1="364.70" x2="151.67" y2="354.20" stroke="#b4b4b4" stroke-width="0.8"/><line x1="153.67" y1="364.70" x2="153.67" y2="354.20" stroke="#b4b4b4" stroke-width="0.8"/><rect x="160.04" y="270.8" width="4.4" height="13.7" fill="#fff" stroke="#9a9a9a" stroke-width="0.9"/><rect x="160.24" y="379.5" width="4.0" height="14.2" fill="#fff" stroke="#9a9a9a" stroke-width="0.9"/><rect x="159.34" y="285.60" width="5.8" height="25.4" rx="1.6" fill="none" stroke="#858585" stroke-width="0.95"/><rect x="159.34" y="285.70" width="5.8" height="4.3" rx="1.6" fill="none" stroke="#7a7a7a" stroke-width="0.9"/><line x1="159.34" y1="286.60" x2="159.34" y2="291.00" stroke="#4a4a4a" stroke-width="1.1"/><line x1="165.14" y1="286.60" x2="165.14" y2="291.00" stroke="#4a4a4a" stroke-width="1.1"/><line x1="159.34" y1="294.70" x2="165.14" y2="294.70" stroke="#8a8a8a" stroke-width="0.8"/><line x1="159.34" y1="297.10" x2="165.14" y2="297.10" stroke="#8a8a8a" stroke-width="0.8"/><line x1="159.34" y1="303.00" x2="165.14" y2="303.00" stroke="#8a8a8a" stroke-width="0.8"/><line x1="159.34" y1="308.20" x2="165.14" y2="308.20" stroke="#b0b0b0" stroke-width="0.8"/><line x1="161.24" y1="300.50" x2="161.24" y2="311.00" stroke="#b4b4b4" stroke-width="0.8"/><line x1="163.24" y1="300.50" x2="163.24" y2="311.00" stroke="#b4b4b4" stroke-width="0.8"/><rect x="159.34" y="354.20" width="5.8" height="25.4" rx="1.6" fill="none" stroke="#858585" stroke-width="0.95"/><rect x="159.34" y="375.20" width="5.8" height="4.3" rx="1.6" fill="none" stroke="#7a7a7a" stroke-width="0.9"/><line x1="159.34" y1="374.20" x2="159.34" y2="378.60" stroke="#4a4a4a" stroke-width="1.1"/><line x1="165.14" y1="374.20" x2="165.14" y2="378.60" stroke="#4a4a4a" stroke-width="1.1"/><line x1="159.34" y1="370.50" x2="165.14" y2="370.50" stroke="#8a8a8a" stroke-width="0.8"/><line x1="159.34" y1="368.10" x2="165.14" y2="368.10" stroke="#8a8a8a" stroke-width="0.8"/><line x1="159.34" y1="362.20" x2="165.14" y2="362.20" stroke="#8a8a8a" stroke-width="0.8"/><line x1="159.34" y1="357.00" x2="165.14" y2="357.00" stroke="#b0b0b0" stroke-width="0.8"/><line x1="161.24" y1="364.70" x2="161.24" y2="354.20" stroke="#b4b4b4" stroke-width="0.8"/><line x1="163.24" y1="364.70" x2="163.24" y2="354.20" stroke="#b4b4b4" stroke-width="0.8"/><rect x="169.61" y="270.8" width="4.4" height="13.7" fill="#fff" stroke="#9a9a9a" stroke-width="0.9"/><rect x="169.81" y="379.5" width="4.0" height="14.2" fill="#fff" stroke="#9a9a9a" stroke-width="0.9"/><rect x="168.91" y="285.60" width="5.8" height="25.4" rx="1.6" fill="none" stroke="#858585" stroke-width="0.95"/><rect x="168.91" y="285.70" width="5.8" height="4.3" rx="1.6" fill="none" stroke="#7a7a7a" stroke-width="0.9"/><line x1="168.91" y1="286.60" x2="168.91" y2="291.00" stroke="#4a4a4a" stroke-width="1.1"/><line x1="174.71" y1="286.60" x2="174.71" y2="291.00" stroke="#4a4a4a" stroke-width="1.1"/><line x1="168.91" y1="294.70" x2="174.71" y2="294.70" stroke="#8a8a8a" stroke-width="0.8"/><line x1="168.91" y1="297.10" x2="174.71" y2="297.10" stroke="#8a8a8a" stroke-width="0.8"/><line x1="168.91" y1="303.00" x2="174.71" y2="303.00" stroke="#8a8a8a" stroke-width="0.8"/><line x1="168.91" y1="308.20" x2="174.71" y2="308.20" stroke="#b0b0b0" stroke-width="0.8"/><line x1="170.81" y1="300.50" x2="170.81" y2="311.00" stroke="#b4b4b4" stroke-width="0.8"/><line x1="172.81" y1="300.50" x2="172.81" y2="311.00" stroke="#b4b4b4" stroke-width="0.8"/><rect x="168.91" y="354.20" width="5.8" height="25.4" rx="1.6" fill="none" stroke="#858585" stroke-width="0.95"/><rect x="168.91" y="375.20" width="5.8" height="4.3" rx="1.6" fill="none" stroke="#7a7a7a" stroke-width="0.9"/><line x1="168.91" y1="374.20" x2="168.91" y2="378.60" stroke="#4a4a4a" stroke-width="1.1"/><line x1="174.71" y1="374.20" x2="174.71" y2="378.60" stroke="#4a4a4a" stroke-width="1.1"/><line x1="168.91" y1="370.50" x2="174.71" y2="370.50" stroke="#8a8a8a" stroke-width="0.8"/><line x1="168.91" y1="368.10" x2="174.71" y2="368.10" stroke="#8a8a8a" stroke-width="0.8"/><line x1="168.91" y1="362.20" x2="174.71" y2="362.20" stroke="#8a8a8a" stroke-width="0.8"/><line x1="168.91" y1="357.00" x2="174.71" y2="357.00" stroke="#b0b0b0" stroke-width="0.8"/><line x1="170.81" y1="364.70" x2="170.81" y2="354.20" stroke="#b4b4b4" stroke-width="0.8"/><line x1="172.81" y1="364.70" x2="172.81" y2="354.20" stroke="#b4b4b4" stroke-width="0.8"/><rect x="179.18" y="270.8" width="4.4" height="13.7" fill="#fff" stroke="#9a9a9a" stroke-width="0.9"/><rect x="179.38" y="379.5" width="4.0" height="14.2" fill="#fff" stroke="#9a9a9a" stroke-width="0.9"/><rect x="178.48" y="285.60" width="5.8" height="25.4" rx="1.6" fill="none" stroke="#858585" stroke-width="0.95"/><rect x="178.48" y="285.70" width="5.8" height="4.3" rx="1.6" fill="none" stroke="#7a7a7a" stroke-width="0.9"/><line x1="178.48" y1="286.60" x2="178.48" y2="291.00" stroke="#4a4a4a" stroke-width="1.1"/><line x1="184.28" y1="286.60" x2="184.28" y2="291.00" stroke="#4a4a4a" stroke-width="1.1"/><line x1="178.48" y1="294.70" x2="184.28" y2="294.70" stroke="#8a8a8a" stroke-width="0.8"/><line x1="178.48" y1="297.10" x2="184.28" y2="297.10" stroke="#8a8a8a" stroke-width="0.8"/><line x1="178.48" y1="303.00" x2="184.28" y2="303.00" stroke="#8a8a8a" stroke-width="0.8"/><line x1="178.48" y1="308.20" x2="184.28" y2="308.20" stroke="#b0b0b0" stroke-width="0.8"/><line x1="180.38" y1="300.50" x2="180.38" y2="311.00" stroke="#b4b4b4" stroke-width="0.8"/><line x1="182.38" y1="300.50" x2="182.38" y2="311.00" stroke="#b4b4b4" stroke-width="0.8"/><rect x="178.48" y="354.20" width="5.8" height="25.4" rx="1.6" fill="none" stroke="#858585" stroke-width="0.95"/><rect x="178.48" y="375.20" width="5.8" height="4.3" rx="1.6" fill="none" stroke="#7a7a7a" stroke-width="0.9"/><line x1="178.48" y1="374.20" x2="178.48" y2="378.60" stroke="#4a4a4a" stroke-width="1.1"/><line x1="184.28" y1="374.20" x2="184.28" y2="378.60" stroke="#4a4a4a" stroke-width="1.1"/><line x1="178.48" y1="370.50" x2="184.28" y2="370.50" stroke="#8a8a8a" stroke-width="0.8"/><line x1="178.48" y1="368.10" x2="184.28" y2="368.10" stroke="#8a8a8a" stroke-width="0.8"/><line x1="178.48" y1="362.20" x2="184.28" y2="362.20" stroke="#8a8a8a" stroke-width="0.8"/><line x1="178.48" y1="357.00" x2="184.28" y2="357.00" stroke="#b0b0b0" stroke-width="0.8"/><line x1="180.38" y1="364.70" x2="180.38" y2="354.20" stroke="#b4b4b4" stroke-width="0.8"/><line x1="182.38" y1="364.70" x2="182.38" y2="354.20" stroke="#b4b4b4" stroke-width="0.8"/><rect x="188.75" y="270.8" width="4.4" height="13.7" fill="#fff" stroke="#9a9a9a" stroke-width="0.9"/><rect x="188.95" y="379.5" width="4.0" height="14.2" fill="#fff" stroke="#9a9a9a" stroke-width="0.9"/><rect x="188.05" y="285.60" width="5.8" height="25.4" rx="1.6" fill="none" stroke="#858585" stroke-width="0.95"/><rect x="188.05" y="285.70" width="5.8" height="4.3" rx="1.6" fill="none" stroke="#7a7a7a" stroke-width="0.9"/><line x1="188.05" y1="286.60" x2="188.05" y2="291.00" stroke="#4a4a4a" stroke-width="1.1"/><line x1="193.85" y1="286.60" x2="193.85" y2="291.00" stroke="#4a4a4a" stroke-width="1.1"/><line x1="188.05" y1="294.70" x2="193.85" y2="294.70" stroke="#8a8a8a" stroke-width="0.8"/><line x1="188.05" y1="297.10" x2="193.85" y2="297.10" stroke="#8a8a8a" stroke-width="0.8"/><line x1="188.05" y1="303.00" x2="193.85" y2="303.00" stroke="#8a8a8a" stroke-width="0.8"/><line x1="188.05" y1="308.20" x2="193.85" y2="308.20" stroke="#b0b0b0" stroke-width="0.8"/><line x1="189.95" y1="300.50" x2="189.95" y2="311.00" stroke="#b4b4b4" stroke-width="0.8"/><line x1="191.95" y1="300.50" x2="191.95" y2="311.00" stroke="#b4b4b4" stroke-width="0.8"/><rect x="188.05" y="354.20" width="5.8" height="25.4" rx="1.6" fill="none" stroke="#858585" stroke-width="0.95"/><rect x="188.05" y="375.20" width="5.8" height="4.3" rx="1.6" fill="none" stroke="#7a7a7a" stroke-width="0.9"/><line x1="188.05" y1="374.20" x2="188.05" y2="378.60" stroke="#4a4a4a" stroke-width="1.1"/><line x1="193.85" y1="374.20" x2="193.85" y2="378.60" stroke="#4a4a4a" stroke-width="1.1"/><line x1="188.05" y1="370.50" x2="193.85" y2="370.50" stroke="#8a8a8a" stroke-width="0.8"/><line x1="188.05" y1="368.10" x2="193.85" y2="368.10" stroke="#8a8a8a" stroke-width="0.8"/><line x1="188.05" y1="362.20" x2="193.85" y2="362.20" stroke="#8a8a8a" stroke-width="0.8"/><line x1="188.05" y1="357.00" x2="193.85" y2="357.00" stroke="#b0b0b0" stroke-width="0.8"/><line x1="189.95" y1="364.70" x2="189.95" y2="354.20" stroke="#b4b4b4" stroke-width="0.8"/><line x1="191.95" y1="364.70" x2="191.95" y2="354.20" stroke="#b4b4b4" stroke-width="0.8"/><rect x="198.32" y="270.8" width="4.4" height="13.7" fill="#fff" stroke="#9a9a9a" stroke-width="0.9"/><rect x="198.52" y="379.5" width="4.0" height="14.2" fill="#fff" stroke="#9a9a9a" stroke-width="0.9"/><rect x="197.62" y="285.60" width="5.8" height="25.4" rx="1.6" fill="none" stroke="#858585" stroke-width="0.95"/><rect x="197.62" y="285.70" width="5.8" height="4.3" rx="1.6" fill="none" stroke="#7a7a7a" stroke-width="0.9"/><line x1="197.62" y1="286.60" x2="197.62" y2="291.00" stroke="#4a4a4a" stroke-width="1.1"/><line x1="203.42" y1="286.60" x2="203.42" y2="291.00" stroke="#4a4a4a" stroke-width="1.1"/><line x1="197.62" y1="294.70" x2="203.42" y2="294.70" stroke="#8a8a8a" stroke-width="0.8"/><line x1="197.62" y1="297.10" x2="203.42" y2="297.10" stroke="#8a8a8a" stroke-width="0.8"/><line x1="197.62" y1="303.00" x2="203.42" y2="303.00" stroke="#8a8a8a" stroke-width="0.8"/><line x1="197.62" y1="308.20" x2="203.42" y2="308.20" stroke="#b0b0b0" stroke-width="0.8"/><line x1="199.52" y1="300.50" x2="199.52" y2="311.00" stroke="#b4b4b4" stroke-width="0.8"/><line x1="201.52" y1="300.50" x2="201.52" y2="311.00" stroke="#b4b4b4" stroke-width="0.8"/><rect x="197.62" y="354.20" width="5.8" height="25.4" rx="1.6" fill="none" stroke="#858585" stroke-width="0.95"/><rect x="197.62" y="375.20" width="5.8" height="4.3" rx="1.6" fill="none" stroke="#7a7a7a" stroke-width="0.9"/><line x1="197.62" y1="374.20" x2="197.62" y2="378.60" stroke="#4a4a4a" stroke-width="1.1"/><line x1="203.42" y1="374.20" x2="203.42" y2="378.60" stroke="#4a4a4a" stroke-width="1.1"/><line x1="197.62" y1="370.50" x2="203.42" y2="370.50" stroke="#8a8a8a" stroke-width="0.8"/><line x1="197.62" y1="368.10" x2="203.42" y2="368.10" stroke="#8a8a8a" stroke-width="0.8"/><line x1="197.62" y1="362.20" x2="203.42" y2="362.20" stroke="#8a8a8a" stroke-width="0.8"/><line x1="197.62" y1="357.00" x2="203.42" y2="357.00" stroke="#b0b0b0" stroke-width="0.8"/><line x1="199.52" y1="364.70" x2="199.52" y2="354.20" stroke="#b4b4b4" stroke-width="0.8"/><line x1="201.52" y1="364.70" x2="201.52" y2="354.20" stroke="#b4b4b4" stroke-width="0.8"/><rect x="207.89" y="270.8" width="4.4" height="13.7" fill="#fff" stroke="#9a9a9a" stroke-width="0.9"/><rect x="208.09" y="379.5" width="4.0" height="14.2" fill="#fff" stroke="#9a9a9a" stroke-width="0.9"/><rect x="207.19" y="285.60" width="5.8" height="25.4" rx="1.6" fill="none" stroke="#858585" stroke-width="0.95"/><rect x="207.19" y="285.70" width="5.8" height="4.3" rx="1.6" fill="none" stroke="#7a7a7a" stroke-width="0.9"/><line x1="207.19" y1="286.60" x2="207.19" y2="291.00" stroke="#4a4a4a" stroke-width="1.1"/><line x1="212.99" y1="286.60" x2="212.99" y2="291.00" stroke="#4a4a4a" stroke-width="1.1"/><line x1="207.19" y1="294.70" x2="212.99" y2="294.70" stroke="#8a8a8a" stroke-width="0.8"/><line x1="207.19" y1="297.10" x2="212.99" y2="297.10" stroke="#8a8a8a" stroke-width="0.8"/><line x1="207.19" y1="303.00" x2="212.99" y2="303.00" stroke="#8a8a8a" stroke-width="0.8"/><line x1="207.19" y1="308.20" x2="212.99" y2="308.20" stroke="#b0b0b0" stroke-width="0.8"/><line x1="209.09" y1="300.50" x2="209.09" y2="311.00" stroke="#b4b4b4" stroke-width="0.8"/><line x1="211.09" y1="300.50" x2="211.09" y2="311.00" stroke="#b4b4b4" stroke-width="0.8"/><rect x="207.19" y="354.20" width="5.8" height="25.4" rx="1.6" fill="none" stroke="#858585" stroke-width="0.95"/><rect x="207.19" y="375.20" width="5.8" height="4.3" rx="1.6" fill="none" stroke="#7a7a7a" stroke-width="0.9"/><line x1="207.19" y1="374.20" x2="207.19" y2="378.60" stroke="#4a4a4a" stroke-width="1.1"/><line x1="212.99" y1="374.20" x2="212.99" y2="378.60" stroke="#4a4a4a" stroke-width="1.1"/><line x1="207.19" y1="370.50" x2="212.99" y2="370.50" stroke="#8a8a8a" stroke-width="0.8"/><line x1="207.19" y1="368.10" x2="212.99" y2="368.10" stroke="#8a8a8a" stroke-width="0.8"/><line x1="207.19" y1="362.20" x2="212.99" y2="362.20" stroke="#8a8a8a" stroke-width="0.8"/><line x1="207.19" y1="357.00" x2="212.99" y2="357.00" stroke="#b0b0b0" stroke-width="0.8"/><line x1="209.09" y1="364.70" x2="209.09" y2="354.20" stroke="#b4b4b4" stroke-width="0.8"/><line x1="211.09" y1="364.70" x2="211.09" y2="354.20" stroke="#b4b4b4" stroke-width="0.8"/><rect x="217.46" y="270.8" width="4.4" height="13.7" fill="#fff" stroke="#9a9a9a" stroke-width="0.9"/><rect x="217.66" y="379.5" width="4.0" height="14.2" fill="#fff" stroke="#9a9a9a" stroke-width="0.9"/><rect x="216.76" y="285.60" width="5.8" height="25.4" rx="1.6" fill="none" stroke="#858585" stroke-width="0.95"/><rect x="216.76" y="285.70" width="5.8" height="4.3" rx="1.6" fill="none" stroke="#7a7a7a" stroke-width="0.9"/><line x1="216.76" y1="286.60" x2="216.76" y2="291.00" stroke="#4a4a4a" stroke-width="1.1"/><line x1="222.56" y1="286.60" x2="222.56" y2="291.00" stroke="#4a4a4a" stroke-width="1.1"/><line x1="216.76" y1="294.70" x2="222.56" y2="294.70" stroke="#8a8a8a" stroke-width="0.8"/><line x1="216.76" y1="297.10" x2="222.56" y2="297.10" stroke="#8a8a8a" stroke-width="0.8"/><line x1="216.76" y1="303.00" x2="222.56" y2="303.00" stroke="#8a8a8a" stroke-width="0.8"/><line x1="216.76" y1="308.20" x2="222.56" y2="308.20" stroke="#b0b0b0" stroke-width="0.8"/><line x1="218.66" y1="300.50" x2="218.66" y2="311.00" stroke="#b4b4b4" stroke-width="0.8"/><line x1="220.66" y1="300.50" x2="220.66" y2="311.00" stroke="#b4b4b4" stroke-width="0.8"/><rect x="216.76" y="354.20" width="5.8" height="25.4" rx="1.6" fill="none" stroke="#858585" stroke-width="0.95"/><rect x="216.76" y="375.20" width="5.8" height="4.3" rx="1.6" fill="none" stroke="#7a7a7a" stroke-width="0.9"/><line x1="216.76" y1="374.20" x2="216.76" y2="378.60" stroke="#4a4a4a" stroke-width="1.1"/><line x1="222.56" y1="374.20" x2="222.56" y2="378.60" stroke="#4a4a4a" stroke-width="1.1"/><line x1="216.76" y1="370.50" x2="222.56" y2="370.50" stroke="#8a8a8a" stroke-width="0.8"/><line x1="216.76" y1="368.10" x2="222.56" y2="368.10" stroke="#8a8a8a" stroke-width="0.8"/><line x1="216.76" y1="362.20" x2="222.56" y2="362.20" stroke="#8a8a8a" stroke-width="0.8"/><line x1="216.76" y1="357.00" x2="222.56" y2="357.00" stroke="#b0b0b0" stroke-width="0.8"/><line x1="218.66" y1="364.70" x2="218.66" y2="354.20" stroke="#b4b4b4" stroke-width="0.8"/><line x1="220.66" y1="364.70" x2="220.66" y2="354.20" stroke="#b4b4b4" stroke-width="0.8"/><rect x="227.03" y="270.8" width="4.4" height="13.7" fill="#fff" stroke="#9a9a9a" stroke-width="0.9"/><rect x="227.23" y="379.5" width="4.0" height="14.2" fill="#fff" stroke="#9a9a9a" stroke-width="0.9"/><rect x="226.33" y="285.60" width="5.8" height="25.4" rx="1.6" fill="none" stroke="#858585" stroke-width="0.95"/><rect x="226.33" y="285.70" width="5.8" height="4.3" rx="1.6" fill="none" stroke="#7a7a7a" stroke-width="0.9"/><line x1="226.33" y1="286.60" x2="226.33" y2="291.00" stroke="#4a4a4a" stroke-width="1.1"/><line x1="232.13" y1="286.60" x2="232.13" y2="291.00" stroke="#4a4a4a" stroke-width="1.1"/><line x1="226.33" y1="294.70" x2="232.13" y2="294.70" stroke="#8a8a8a" stroke-width="0.8"/><line x1="226.33" y1="297.10" x2="232.13" y2="297.10" stroke="#8a8a8a" stroke-width="0.8"/><line x1="226.33" y1="303.00" x2="232.13" y2="303.00" stroke="#8a8a8a" stroke-width="0.8"/><line x1="226.33" y1="308.20" x2="232.13" y2="308.20" stroke="#b0b0b0" stroke-width="0.8"/><line x1="228.23" y1="300.50" x2="228.23" y2="311.00" stroke="#b4b4b4" stroke-width="0.8"/><line x1="230.23" y1="300.50" x2="230.23" y2="311.00" stroke="#b4b4b4" stroke-width="0.8"/><rect x="226.33" y="354.20" width="5.8" height="25.4" rx="1.6" fill="none" stroke="#858585" stroke-width="0.95"/><rect x="226.33" y="375.20" width="5.8" height="4.3" rx="1.6" fill="none" stroke="#7a7a7a" stroke-width="0.9"/><line x1="226.33" y1="374.20" x2="226.33" y2="378.60" stroke="#4a4a4a" stroke-width="1.1"/><line x1="232.13" y1="374.20" x2="232.13" y2="378.60" stroke="#4a4a4a" stroke-width="1.1"/><line x1="226.33" y1="370.50" x2="232.13" y2="370.50" stroke="#8a8a8a" stroke-width="0.8"/><line x1="226.33" y1="368.10" x2="232.13" y2="368.10" stroke="#8a8a8a" stroke-width="0.8"/><line x1="226.33" y1="362.20" x2="232.13" y2="362.20" stroke="#8a8a8a" stroke-width="0.8"/><line x1="226.33" y1="357.00" x2="232.13" y2="357.00" stroke="#b0b0b0" stroke-width="0.8"/><line x1="228.23" y1="364.70" x2="228.23" y2="354.20" stroke="#b4b4b4" stroke-width="0.8"/><line x1="230.23" y1="364.70" x2="230.23" y2="354.20" stroke="#b4b4b4" stroke-width="0.8"/></svg>
<svg width="780" height="403" viewBox="0 0 780 403" style="position:absolute;left:0;top:0"><rect x="493.5" y="263.5" width="212.5" height="95.0" fill="#fff"/><rect x="493.5" y="263.5" width="212.5" height="18.0" fill="#abcce0"/><rect x="538.5" y="263.5" width="43.0" height="95.0" fill="#abcce0"/><rect x="625.0" y="263.5" width="40.5" height="95.0" fill="#abcce0"/><line x1="493.5" y1="263.5" x2="493.5" y2="358.5" stroke="rgba(40,50,60,0.42)" stroke-width="1"/><line x1="538.5" y1="263.5" x2="538.5" y2="358.5" stroke="rgba(40,50,60,0.42)" stroke-width="1"/><line x1="581.5" y1="263.5" x2="581.5" y2="358.5" stroke="rgba(40,50,60,0.42)" stroke-width="1"/><line x1="625.0" y1="263.5" x2="625.0" y2="358.5" stroke="rgba(40,50,60,0.42)" stroke-width="1"/><line x1="665.5" y1="263.5" x2="665.5" y2="358.5" stroke="rgba(40,50,60,0.42)" stroke-width="1"/><line x1="706.0" y1="263.5" x2="706.0" y2="358.5" stroke="rgba(40,50,60,0.42)" stroke-width="1"/><line x1="493.5" y1="263.5" x2="706.0" y2="263.5" stroke="rgba(40,50,60,0.42)" stroke-width="1"/><line x1="493.5" y1="281.5" x2="706.0" y2="281.5" stroke="rgba(40,50,60,0.42)" stroke-width="1"/><line x1="493.5" y1="303.5" x2="706.0" y2="303.5" stroke="rgba(40,50,60,0.42)" stroke-width="1"/><line x1="493.5" y1="321.5" x2="706.0" y2="321.5" stroke="rgba(40,50,60,0.42)" stroke-width="1"/><line x1="493.5" y1="339.5" x2="706.0" y2="339.5" stroke="rgba(40,50,60,0.42)" stroke-width="1"/><line x1="493.5" y1="358.5" x2="706.0" y2="358.5" stroke="rgba(40,50,60,0.42)" stroke-width="1"/><g fill="none" stroke="#8a8f93" stroke-width="0.9" vector-effect="non-scaling-stroke" stroke-linecap="round" stroke-linejoin="round"><path vector-effect="non-scaling-stroke" transform="translate(503.60,268.10) scale(0.8000,0.7600)" d="M0,10 L0,0 L3.5,0 C5,0 6,1 6,2.7 C6,4.4 5,5.4 3.5,5.4 L0,5.4"/><path vector-effect="non-scaling-stroke" transform="translate(509.60,268.10) scale(0.8000,0.7600)" d="M3,3 C1,3 0,4.5 0,6.5 C0,8.5 1,10 3,10 C5,10 6,8.5 6,6.5 C6,4.5 5,3 3,3 Z"/><path vector-effect="non-scaling-stroke" transform="translate(516.60,268.10) scale(0.8000,0.7600)" d="M0.5,0 L0.5,10"/><path vector-effect="non-scaling-stroke" transform="translate(519.20,268.10) scale(0.8000,0.7600)" d="M0,6.5 L6,6.5 C6,4.5 5,3 3,3 C1,3 0,4.5 0,6.5 C0,8.5 1,10 3,10 C4.3,10 5.3,9.5 5.8,8.7"/><path vector-effect="non-scaling-stroke" transform="translate(526.00,268.10) scale(0.8000,0.7600)" d="M5.5,4 C5,3.3 4.2,3 3,3 C1.5,3 0.5,3.7 0.5,4.8 C0.5,6 1.5,6.3 3,6.6 C4.6,6.9 5.8,7.3 5.8,8.4 C5.8,9.5 4.6,10 3,10 C1.7,10 0.7,9.6 0.2,8.9"/></g><g fill="none" stroke="#8a8f93" stroke-width="0.9" vector-effect="non-scaling-stroke" stroke-linecap="round" stroke-linejoin="round"><path vector-effect="non-scaling-stroke" transform="translate(553.70,268.30) scale(1.0500,0.8800)" d="M0,10 L3,0 L6,10 M1.1,6.4 L4.9,6.4"/></g><g fill="none" stroke="#8a8f93" stroke-width="0.9" vector-effect="non-scaling-stroke" stroke-linecap="round" stroke-linejoin="round"><path vector-effect="non-scaling-stroke" transform="translate(598.40,268.30) scale(1.0500,0.8800)" d="M0,5 L3.5,5 C5,5 6,6 6,7.5 C6,9 5,10 3.5,10 L0,10 L0,0 L3,0 C4.5,0 5.5,1 5.5,2.5 C5.5,4 4.5,5 3,5"/></g><g fill="none" stroke="#8a8f93" stroke-width="0.9" vector-effect="non-scaling-stroke" stroke-linecap="round" stroke-linejoin="round"><path vector-effect="non-scaling-stroke" transform="translate(641.90,268.30) scale(1.0500,0.8800)" d="M6,2 C5.5,0.7 4.5,0 3,0 C1,0 0,2 0,5 C0,8 1,10 3,10 C4.5,10 5.5,9.3 6,8"/></g><g fill="none" stroke="#8a8f93" stroke-width="0.9" vector-effect="non-scaling-stroke" stroke-linecap="round" stroke-linejoin="round"><path vector-effect="non-scaling-stroke" transform="translate(682.20,268.30) scale(1.0500,0.8800)" d="M0,0 L0,10 L2.6,10 C5,10 6,8 6,5 C6,2 5,0 2.6,0 Z"/></g><g fill="none" stroke="#8a8f93" stroke-width="0.9" vector-effect="non-scaling-stroke" stroke-linecap="round" stroke-linejoin="round"><path vector-effect="non-scaling-stroke" transform="translate(507.30,290.00) scale(0.8333,0.8700)" d="M0.2,2.6 C0.4,1 1.5,0 3,0 C4.7,0 5.8,1.1 5.8,2.7 C5.8,4.1 5,5 3.6,6.1 L0,10 L6,10"/><path vector-effect="non-scaling-stroke" transform="translate(515.80,290.00) scale(0.8333,0.8700)" d="M4.4,10 L4.4,0.3 L0,6.5 L6,6.5"/></g><g fill="none" stroke="#8a8f93" stroke-width="0.9" vector-effect="non-scaling-stroke" stroke-linecap="round" stroke-linejoin="round"><path vector-effect="non-scaling-stroke" transform="translate(547.20,290.00) scale(0.8333,0.8700)" d="M5.4,1.1 C4.9,0.4 4.1,0 3,0 C1,0 0,2.1 0,5.5 C0,8.6 1.2,10 3,10 C4.8,10 6,8.7 6,6.9 C6,5.1 4.8,3.9 3,3.9 C1.5,3.9 0.4,4.8 0,6"/><path vector-effect="non-scaling-stroke" transform="translate(555.70,290.00) scale(0.8333,0.8700)" d="M-0.5,9.6 L-0.5,10"/><path vector-effect="non-scaling-stroke" transform="translate(558.30,290.00) scale(0.8333,0.8700)" d="M0.6,8.9 C1.1,9.6 1.9,10 3,10 C5,10 6,7.9 6,4.5 C6,1.4 4.8,0 3,0 C1.2,0 0,1.3 0,3.1 C0,4.9 1.2,6.1 3,6.1 C4.5,6.1 5.6,5.2 6,4"/><path vector-effect="non-scaling-stroke" transform="translate(566.80,290.00) scale(0.8333,0.8700)" d="M2.9,0 C1.3,0 0.3,2.1 0.3,5 C0.3,7.9 1.3,10 2.9,10 C4.5,10 5.5,7.9 5.5,5 C5.5,2.1 4.5,0 2.9,0 Z"/></g><g fill="none" stroke="#8a8f93" stroke-width="0.9" vector-effect="non-scaling-stroke" stroke-linecap="round" stroke-linejoin="round"><path vector-effect="non-scaling-stroke" transform="translate(590.20,290.00) scale(0.8333,0.8700)" d="M4.4,10 L4.4,0.3 L0,6.5 L6,6.5"/><path vector-effect="non-scaling-stroke" transform="translate(598.70,290.00) scale(0.8333,0.8700)" d="M-0.5,9.6 L-0.5,10"/><path vector-effect="non-scaling-stroke" transform="translate(601.30,290.00) scale(0.8333,0.8700)" d="M4.4,10 L4.4,0.3 L0,6.5 L6,6.5"/><path vector-effect="non-scaling-stroke" transform="translate(609.80,290.00) scale(0.8333,0.8700)" d="M2.9,0 C1.3,0 0.3,2.1 0.3,5 C0.3,7.9 1.3,10 2.9,10 C4.5,10 5.5,7.9 5.5,5 C5.5,2.1 4.5,0 2.9,0 Z"/></g><g fill="none" stroke="#8a8f93" stroke-width="0.9" vector-effect="non-scaling-stroke" stroke-linecap="round" stroke-linejoin="round"><path vector-effect="non-scaling-stroke" transform="translate(634.00,290.00) scale(0.8333,0.8700)" d="M4.4,10 L4.4,0.3 L0,6.5 L6,6.5"/><path vector-effect="non-scaling-stroke" transform="translate(642.50,290.00) scale(0.8333,0.8700)" d="M-0.5,9.6 L-0.5,10"/><path vector-effect="non-scaling-stroke" transform="translate(645.10,290.00) scale(0.8333,0.8700)" d="M5.4,1.1 C4.9,0.4 4.1,0 3,0 C1,0 0,2.1 0,5.5 C0,8.6 1.2,10 3,10 C4.8,10 6,8.7 6,6.9 C6,5.1 4.8,3.9 3,3.9 C1.5,3.9 0.4,4.8 0,6"/><path vector-effect="non-scaling-stroke" transform="translate(653.60,290.00) scale(0.8333,0.8700)" d="M4.4,10 L4.4,0.3 L0,6.5 L6,6.5"/></g><g fill="none" stroke="#8a8f93" stroke-width="0.9" vector-effect="non-scaling-stroke" stroke-linecap="round" stroke-linejoin="round"><path vector-effect="non-scaling-stroke" transform="translate(676.40,290.00) scale(0.8333,0.8700)" d="M5.6,0 L1,0 L0.5,4.3 C1.2,3.8 2,3.5 3,3.5 C4.8,3.5 6,4.9 6,6.8 C6,8.8 4.8,10 3,10 C1.7,10 0.8,9.5 0.1,8.5"/><path vector-effect="non-scaling-stroke" transform="translate(684.90,290.00) scale(0.8333,0.8700)" d="M-0.5,9.6 L-0.5,10"/><path vector-effect="non-scaling-stroke" transform="translate(687.50,290.00) scale(0.8333,0.8700)" d="M0,2.2 L2.3,0 L2.3,10"/><path vector-effect="non-scaling-stroke" transform="translate(692.30,290.00) scale(0.8333,0.8700)" d="M2.9,0 C1.3,0 0.3,2.1 0.3,5 C0.3,7.9 1.3,10 2.9,10 C4.5,10 5.5,7.9 5.5,5 C5.5,2.1 4.5,0 2.9,0 Z"/></g><g fill="none" stroke="#8a8f93" stroke-width="0.9" vector-effect="non-scaling-stroke" stroke-linecap="round" stroke-linejoin="round"><path vector-effect="non-scaling-stroke" transform="translate(507.30,308.50) scale(0.8333,0.8700)" d="M0.4,1.2 C1,0.4 1.9,0 3,0 C4.6,0 5.6,1 5.6,2.5 C5.6,4 4.5,4.8 2.8,4.8 C4.8,4.8 6,5.9 6,7.4 C6,9 4.8,10 3,10 C1.8,10 0.8,9.5 0.1,8.6"/><path vector-effect="non-scaling-stroke" transform="translate(515.80,308.50) scale(0.8333,0.8700)" d="M4.4,10 L4.4,0.3 L0,6.5 L6,6.5"/></g><g fill="none" stroke="#8a8f93" stroke-width="0.9" vector-effect="non-scaling-stroke" stroke-linecap="round" stroke-linejoin="round"><path vector-effect="non-scaling-stroke" transform="translate(547.20,308.50) scale(0.8333,0.8700)" d="M3,0 C1.5,0 0.5,1 0.5,2.4 C0.5,3.8 1.5,4.7 3,4.7 C4.5,4.7 5.5,3.8 5.5,2.4 C5.5,1 4.5,0 3,0 Z M3,4.7 C1.2,4.7 0,5.8 0,7.3 C0,8.9 1.2,10 3,10 C4.8,10 6,8.9 6,7.3 C6,5.8 4.8,4.7 3,4.7 Z"/><path vector-effect="non-scaling-stroke" transform="translate(555.70,308.50) scale(0.8333,0.8700)" d="M-0.5,9.6 L-0.5,10"/><path vector-effect="non-scaling-stroke" transform="translate(558.30,308.50) scale(0.8333,0.8700)" d="M0.6,8.9 C1.1,9.6 1.9,10 3,10 C5,10 6,7.9 6,4.5 C6,1.4 4.8,0 3,0 C1.2,0 0,1.3 0,3.1 C0,4.9 1.2,6.1 3,6.1 C4.5,6.1 5.6,5.2 6,4"/><path vector-effect="non-scaling-stroke" transform="translate(566.80,308.50) scale(0.8333,0.8700)" d="M2.9,0 C1.3,0 0.3,2.1 0.3,5 C0.3,7.9 1.3,10 2.9,10 C4.5,10 5.5,7.9 5.5,5 C5.5,2.1 4.5,0 2.9,0 Z"/></g><g fill="none" stroke="#8a8f93" stroke-width="0.9" vector-effect="non-scaling-stroke" stroke-linecap="round" stroke-linejoin="round"><path vector-effect="non-scaling-stroke" transform="translate(590.20,308.50) scale(0.8333,0.8700)" d="M5.4,1.1 C4.9,0.4 4.1,0 3,0 C1,0 0,2.1 0,5.5 C0,8.6 1.2,10 3,10 C4.8,10 6,8.7 6,6.9 C6,5.1 4.8,3.9 3,3.9 C1.5,3.9 0.4,4.8 0,6"/><path vector-effect="non-scaling-stroke" transform="translate(598.70,308.50) scale(0.8333,0.8700)" d="M-0.5,9.6 L-0.5,10"/><path vector-effect="non-scaling-stroke" transform="translate(601.30,308.50) scale(0.8333,0.8700)" d="M4.4,10 L4.4,0.3 L0,6.5 L6,6.5"/><path vector-effect="non-scaling-stroke" transform="translate(609.80,308.50) scale(0.8333,0.8700)" d="M2.9,0 C1.3,0 0.3,2.1 0.3,5 C0.3,7.9 1.3,10 2.9,10 C4.5,10 5.5,7.9 5.5,5 C5.5,2.1 4.5,0 2.9,0 Z"/></g><g fill="none" stroke="#8a8f93" stroke-width="0.9" vector-effect="non-scaling-stroke" stroke-linecap="round" stroke-linejoin="round"><path vector-effect="non-scaling-stroke" transform="translate(634.00,308.50) scale(0.8333,0.8700)" d="M5.4,1.1 C4.9,0.4 4.1,0 3,0 C1,0 0,2.1 0,5.5 C0,8.6 1.2,10 3,10 C4.8,10 6,8.7 6,6.9 C6,5.1 4.8,3.9 3,3.9 C1.5,3.9 0.4,4.8 0,6"/><path vector-effect="non-scaling-stroke" transform="translate(642.50,308.50) scale(0.8333,0.8700)" d="M-0.5,9.6 L-0.5,10"/><path vector-effect="non-scaling-stroke" transform="translate(645.10,308.50) scale(0.8333,0.8700)" d="M5.4,1.1 C4.9,0.4 4.1,0 3,0 C1,0 0,2.1 0,5.5 C0,8.6 1.2,10 3,10 C4.8,10 6,8.7 6,6.9 C6,5.1 4.8,3.9 3,3.9 C1.5,3.9 0.4,4.8 0,6"/><path vector-effect="non-scaling-stroke" transform="translate(653.60,308.50) scale(0.8333,0.8700)" d="M4.4,10 L4.4,0.3 L0,6.5 L6,6.5"/></g><g fill="none" stroke="#8a8f93" stroke-width="0.9" vector-effect="non-scaling-stroke" stroke-linecap="round" stroke-linejoin="round"><path vector-effect="non-scaling-stroke" transform="translate(676.40,308.50) scale(0.8333,0.8700)" d="M0,0 L6,0 L2,10"/><path vector-effect="non-scaling-stroke" transform="translate(684.90,308.50) scale(0.8333,0.8700)" d="M-0.5,9.6 L-0.5,10"/><path vector-effect="non-scaling-stroke" transform="translate(687.50,308.50) scale(0.8333,0.8700)" d="M0,2.2 L2.3,0 L2.3,10"/><path vector-effect="non-scaling-stroke" transform="translate(692.30,308.50) scale(0.8333,0.8700)" d="M2.9,0 C1.3,0 0.3,2.1 0.3,5 C0.3,7.9 1.3,10 2.9,10 C4.5,10 5.5,7.9 5.5,5 C5.5,2.1 4.5,0 2.9,0 Z"/></g><g fill="none" stroke="#8a8f93" stroke-width="0.9" vector-effect="non-scaling-stroke" stroke-linecap="round" stroke-linejoin="round"><path vector-effect="non-scaling-stroke" transform="translate(507.30,326.00) scale(0.8333,0.8700)" d="M4.4,10 L4.4,0.3 L0,6.5 L6,6.5"/><path vector-effect="non-scaling-stroke" transform="translate(515.80,326.00) scale(0.8333,0.8700)" d="M2.9,0 C1.3,0 0.3,2.1 0.3,5 C0.3,7.9 1.3,10 2.9,10 C4.5,10 5.5,7.9 5.5,5 C5.5,2.1 4.5,0 2.9,0 Z"/></g><g fill="none" stroke="#8a8f93" stroke-width="0.9" vector-effect="non-scaling-stroke" stroke-linecap="round" stroke-linejoin="round"><path vector-effect="non-scaling-stroke" transform="translate(547.80,326.00) scale(0.8333,0.8700)" d="M0,2.2 L2.3,0 L2.3,10"/><path vector-effect="non-scaling-stroke" transform="translate(552.60,326.00) scale(0.8333,0.8700)" d="M2.9,0 C1.3,0 0.3,2.1 0.3,5 C0.3,7.9 1.3,10 2.9,10 C4.5,10 5.5,7.9 5.5,5 C5.5,2.1 4.5,0 2.9,0 Z"/><path vector-effect="non-scaling-stroke" transform="translate(561.10,326.00) scale(0.8333,0.8700)" d="M-0.5,9.6 L-0.5,10"/><path vector-effect="non-scaling-stroke" transform="translate(563.70,326.00) scale(0.8333,0.8700)" d="M0,2.2 L2.3,0 L2.3,10"/><path vector-effect="non-scaling-stroke" transform="translate(568.50,326.00) scale(0.8333,0.8700)" d="M2.9,0 C1.3,0 0.3,2.1 0.3,5 C0.3,7.9 1.3,10 2.9,10 C4.5,10 5.5,7.9 5.5,5 C5.5,2.1 4.5,0 2.9,0 Z"/></g><g fill="none" stroke="#8a8f93" stroke-width="0.9" vector-effect="non-scaling-stroke" stroke-linecap="round" stroke-linejoin="round"><path vector-effect="non-scaling-stroke" transform="translate(590.20,326.00) scale(0.8333,0.8700)" d="M0,0 L6,0 L2,10"/><path vector-effect="non-scaling-stroke" transform="translate(598.70,326.00) scale(0.8333,0.8700)" d="M-0.5,9.6 L-0.5,10"/><path vector-effect="non-scaling-stroke" transform="translate(601.30,326.00) scale(0.8333,0.8700)" d="M5.4,1.1 C4.9,0.4 4.1,0 3,0 C1,0 0,2.1 0,5.5 C0,8.6 1.2,10 3,10 C4.8,10 6,8.7 6,6.9 C6,5.1 4.8,3.9 3,3.9 C1.5,3.9 0.4,4.8 0,6"/><path vector-effect="non-scaling-stroke" transform="translate(609.80,326.00) scale(0.8333,0.8700)" d="M2.9,0 C1.3,0 0.3,2.1 0.3,5 C0.3,7.9 1.3,10 2.9,10 C4.5,10 5.5,7.9 5.5,5 C5.5,2.1 4.5,0 2.9,0 Z"/></g><g fill="none" stroke="#8a8f93" stroke-width="0.9" vector-effect="non-scaling-stroke" stroke-linecap="round" stroke-linejoin="round"><path vector-effect="non-scaling-stroke" transform="translate(634.00,326.00) scale(0.8333,0.8700)" d="M0,0 L6,0 L2,10"/><path vector-effect="non-scaling-stroke" transform="translate(642.50,326.00) scale(0.8333,0.8700)" d="M-0.5,9.6 L-0.5,10"/><path vector-effect="non-scaling-stroke" transform="translate(645.10,326.00) scale(0.8333,0.8700)" d="M3,0 C1.5,0 0.5,1 0.5,2.4 C0.5,3.8 1.5,4.7 3,4.7 C4.5,4.7 5.5,3.8 5.5,2.4 C5.5,1 4.5,0 3,0 Z M3,4.7 C1.2,4.7 0,5.8 0,7.3 C0,8.9 1.2,10 3,10 C4.8,10 6,8.9 6,7.3 C6,5.8 4.8,4.7 3,4.7 Z"/><path vector-effect="non-scaling-stroke" transform="translate(653.60,326.00) scale(0.8333,0.8700)" d="M4.4,10 L4.4,0.3 L0,6.5 L6,6.5"/></g><g fill="none" stroke="#8a8f93" stroke-width="0.9" vector-effect="non-scaling-stroke" stroke-linecap="round" stroke-linejoin="round"><path vector-effect="non-scaling-stroke" transform="translate(672.70,326.00) scale(0.8333,0.8700)" d="M3,0 C1.5,0 0.5,1 0.5,2.4 C0.5,3.8 1.5,4.7 3,4.7 C4.5,4.7 5.5,3.8 5.5,2.4 C5.5,1 4.5,0 3,0 Z M3,4.7 C1.2,4.7 0,5.8 0,7.3 C0,8.9 1.2,10 3,10 C4.8,10 6,8.9 6,7.3 C6,5.8 4.8,4.7 3,4.7 Z"/><path vector-effect="non-scaling-stroke" transform="translate(681.20,326.00) scale(0.8333,0.8700)" d="M-0.5,9.6 L-0.5,10"/><path vector-effect="non-scaling-stroke" transform="translate(683.80,326.00) scale(0.8333,0.8700)" d="M0.4,1.2 C1,0.4 1.9,0 3,0 C4.6,0 5.6,1 5.6,2.5 C5.6,4 4.5,4.8 2.8,4.8 C4.8,4.8 6,5.9 6,7.4 C6,9 4.8,10 3,10 C1.8,10 0.8,9.5 0.1,8.6"/><path vector-effect="non-scaling-stroke" transform="translate(692.30,326.00) scale(0.8333,0.8700)" d="M2.9,0 C1.3,0 0.3,2.1 0.3,5 C0.3,7.9 1.3,10 2.9,10 C4.5,10 5.5,7.9 5.5,5 C5.5,2.1 4.5,0 2.9,0 Z"/></g><g fill="none" stroke="#8a8f93" stroke-width="0.9" vector-effect="non-scaling-stroke" stroke-linecap="round" stroke-linejoin="round"><path vector-effect="non-scaling-stroke" transform="translate(507.30,343.90) scale(0.8333,0.8700)" d="M5.6,0 L1,0 L0.5,4.3 C1.2,3.8 2,3.5 3,3.5 C4.8,3.5 6,4.9 6,6.8 C6,8.8 4.8,10 3,10 C1.7,10 0.8,9.5 0.1,8.5"/><path vector-effect="non-scaling-stroke" transform="translate(515.80,343.90) scale(0.8333,0.8700)" d="M2.9,0 C1.3,0 0.3,2.1 0.3,5 C0.3,7.9 1.3,10 2.9,10 C4.5,10 5.5,7.9 5.5,5 C5.5,2.1 4.5,0 2.9,0 Z"/></g><g fill="none" stroke="#8a8f93" stroke-width="0.9" vector-effect="non-scaling-stroke" stroke-linecap="round" stroke-linejoin="round"><path vector-effect="non-scaling-stroke" transform="translate(547.80,343.90) scale(0.8333,0.8700)" d="M0,2.2 L2.3,0 L2.3,10"/><path vector-effect="non-scaling-stroke" transform="translate(552.60,343.90) scale(0.8333,0.8700)" d="M0.2,2.6 C0.4,1 1.5,0 3,0 C4.7,0 5.8,1.1 5.8,2.7 C5.8,4.1 5,5 3.6,6.1 L0,10 L6,10"/><path vector-effect="non-scaling-stroke" transform="translate(561.10,343.90) scale(0.8333,0.8700)" d="M-0.5,9.6 L-0.5,10"/><path vector-effect="non-scaling-stroke" transform="translate(563.70,343.90) scale(0.8333,0.8700)" d="M0,2.2 L2.3,0 L2.3,10"/><path vector-effect="non-scaling-stroke" transform="translate(568.50,343.90) scale(0.8333,0.8700)" d="M2.9,0 C1.3,0 0.3,2.1 0.3,5 C0.3,7.9 1.3,10 2.9,10 C4.5,10 5.5,7.9 5.5,5 C5.5,2.1 4.5,0 2.9,0 Z"/></g><g fill="none" stroke="#8a8f93" stroke-width="0.9" vector-effect="non-scaling-stroke" stroke-linecap="round" stroke-linejoin="round"><path vector-effect="non-scaling-stroke" transform="translate(590.20,343.90) scale(0.8333,0.8700)" d="M0.6,8.9 C1.1,9.6 1.9,10 3,10 C5,10 6,7.9 6,4.5 C6,1.4 4.8,0 3,0 C1.2,0 0,1.3 0,3.1 C0,4.9 1.2,6.1 3,6.1 C4.5,6.1 5.6,5.2 6,4"/><path vector-effect="non-scaling-stroke" transform="translate(598.70,343.90) scale(0.8333,0.8700)" d="M-0.5,9.6 L-0.5,10"/><path vector-effect="non-scaling-stroke" transform="translate(601.30,343.90) scale(0.8333,0.8700)" d="M5.4,1.1 C4.9,0.4 4.1,0 3,0 C1,0 0,2.1 0,5.5 C0,8.6 1.2,10 3,10 C4.8,10 6,8.7 6,6.9 C6,5.1 4.8,3.9 3,3.9 C1.5,3.9 0.4,4.8 0,6"/><path vector-effect="non-scaling-stroke" transform="translate(609.80,343.90) scale(0.8333,0.8700)" d="M2.9,0 C1.3,0 0.3,2.1 0.3,5 C0.3,7.9 1.3,10 2.9,10 C4.5,10 5.5,7.9 5.5,5 C5.5,2.1 4.5,0 2.9,0 Z"/></g><g fill="none" stroke="#8a8f93" stroke-width="0.9" vector-effect="non-scaling-stroke" stroke-linecap="round" stroke-linejoin="round"><path vector-effect="non-scaling-stroke" transform="translate(634.00,343.90) scale(0.8333,0.8700)" d="M0.6,8.9 C1.1,9.6 1.9,10 3,10 C5,10 6,7.9 6,4.5 C6,1.4 4.8,0 3,0 C1.2,0 0,1.3 0,3.1 C0,4.9 1.2,6.1 3,6.1 C4.5,6.1 5.6,5.2 6,4"/><path vector-effect="non-scaling-stroke" transform="translate(642.50,343.90) scale(0.8333,0.8700)" d="M-0.5,9.6 L-0.5,10"/><path vector-effect="non-scaling-stroke" transform="translate(645.10,343.90) scale(0.8333,0.8700)" d="M3,0 C1.5,0 0.5,1 0.5,2.4 C0.5,3.8 1.5,4.7 3,4.7 C4.5,4.7 5.5,3.8 5.5,2.4 C5.5,1 4.5,0 3,0 Z M3,4.7 C1.2,4.7 0,5.8 0,7.3 C0,8.9 1.2,10 3,10 C4.8,10 6,8.9 6,7.3 C6,5.8 4.8,4.7 3,4.7 Z"/><path vector-effect="non-scaling-stroke" transform="translate(653.60,343.90) scale(0.8333,0.8700)" d="M4.4,10 L4.4,0.3 L0,6.5 L6,6.5"/></g><g fill="none" stroke="#8a8f93" stroke-width="0.9" vector-effect="non-scaling-stroke" stroke-linecap="round" stroke-linejoin="round"><path vector-effect="non-scaling-stroke" transform="translate(667.90,343.90) scale(0.8333,0.8700)" d="M0,2.2 L2.3,0 L2.3,10"/><path vector-effect="non-scaling-stroke" transform="translate(672.70,343.90) scale(0.8333,0.8700)" d="M2.9,0 C1.3,0 0.3,2.1 0.3,5 C0.3,7.9 1.3,10 2.9,10 C4.5,10 5.5,7.9 5.5,5 C5.5,2.1 4.5,0 2.9,0 Z"/><path vector-effect="non-scaling-stroke" transform="translate(681.20,343.90) scale(0.8333,0.8700)" d="M-0.5,9.6 L-0.5,10"/><path vector-effect="non-scaling-stroke" transform="translate(683.80,343.90) scale(0.8333,0.8700)" d="M0.4,1.2 C1,0.4 1.9,0 3,0 C4.6,0 5.6,1 5.6,2.5 C5.6,4 4.5,4.8 2.8,4.8 C4.8,4.8 6,5.9 6,7.4 C6,9 4.8,10 3,10 C1.8,10 0.8,9.5 0.1,8.6"/><path vector-effect="non-scaling-stroke" transform="translate(692.30,343.90) scale(0.8333,0.8700)" d="M2.9,0 C1.3,0 0.3,2.1 0.3,5 C0.3,7.9 1.3,10 2.9,10 C4.5,10 5.5,7.9 5.5,5 C5.5,2.1 4.5,0 2.9,0 Z"/></g></svg>
</body></html>
